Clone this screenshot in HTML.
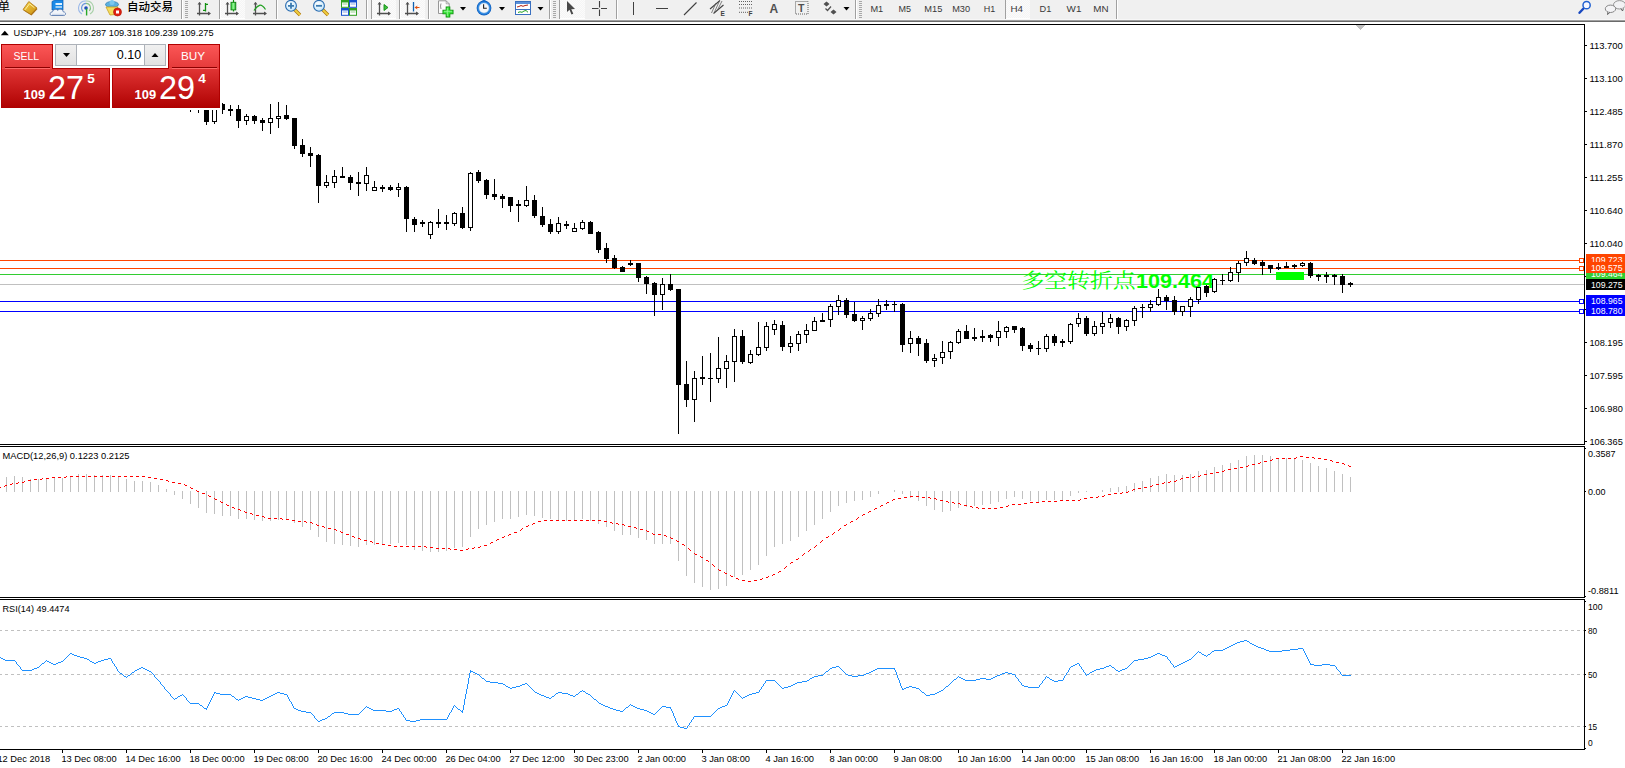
<!DOCTYPE html>
<html><head><meta charset="utf-8"><title>USDJPY-,H4</title>
<style>
html,body{margin:0;padding:0;background:#fff;}
body{width:1625px;height:768px;overflow:hidden;position:relative;font-family:'Liberation Sans',Arial,sans-serif;}
#panel{position:absolute;left:0;top:0;}
#panel .wm{position:absolute;left:0;top:42px;width:222px;height:68px;background:#fff;}
.tab{position:absolute;top:44px;height:26px;box-sizing:border-box;border:1px solid #a80000;border-bottom:none;
  background:linear-gradient(#f65656,#e03434);}
.tab.sell{left:1px;width:52px;}
.tab.buy{left:168px;width:52px;}
.tab span{position:absolute;left:0;right:0;top:4px;text-align:center;color:#fff;font-size:12px;letter-spacing:0.2px;}
.tab::after{content:"";position:absolute;left:3px;right:3px;top:23px;height:1px;background:#a00000;}
.big{position:absolute;top:68px;height:40px;box-sizing:border-box;border:1px solid #a80000;border-top:none;
  background:linear-gradient(#e03030,#b00000);color:#fff;}
.big.sellb{left:1px;width:110px;}
.big.buyb{left:112px;width:109px;}
.big .s{position:absolute;top:18px;font-size:12.5px;font-weight:bold;}
.big .l{position:absolute;top:-2px;font-size:33px;}
.big .u{position:absolute;top:5px;font-size:12px;font-weight:bold;}
.sellb .s{left:23px;} .sellb .l{left:48px;} .sellb .u{left:87px;}
.buyb .s{left:22px;} .buyb .l{left:47px;} .buyb .u{left:86px;}
.lot{position:absolute;left:55px;top:44px;width:112px;height:22px;box-sizing:border-box;border:1px solid #adb2b9;background:#fff;}
.lot .dn,.lot .up{position:absolute;top:0;width:21px;height:20px;background:linear-gradient(#f2f2f2,#e2e2e2);}
.lot .dn{left:0;border-right:1px solid #adb2b9;}
.lot .up{right:0;border-left:1px solid #adb2b9;}
.lot .dn::after,.lot .up::after{content:"";position:absolute;left:7px;width:0;height:0;border-left:3.5px solid transparent;border-right:3.5px solid transparent;}
.lot .dn::after{top:8px;border-top:4px solid #000;}
.lot .up::after{top:8px;border-bottom:4px solid #000;}
.lot .val{position:absolute;right:25px;top:3px;font-size:12.5px;color:#000;}
#tb{position:absolute;left:0;top:0;width:1625px;height:20px;}
</style></head>
<body>
<svg width="1625" height="768" viewBox="0 0 1625 768" style="position:absolute;left:0;top:0" font-family="'Liberation Sans', Arial, sans-serif">
<g shape-rendering="crispEdges">
<rect x="0" y="0" width="1625" height="20" fill="#f0f0f0" />
<rect x="0" y="19" width="1625" height="1" fill="#f7f7f7" />
<rect x="0" y="20" width="1625" height="1" fill="#a0a0a0" />
<rect x="0" y="21" width="1625" height="1" fill="#6a6a6a" />
<g shape-rendering="auto"><defs><pattern id="chk" width="2" height="2" patternUnits="userSpaceOnUse"><rect width="2" height="2" fill="#f5f5f5"/><rect width="1" height="1" fill="#fbfbfb"/><rect x="1" y="1" width="1" height="1" fill="#fbfbfb"/></pattern><linearGradient id="gold" x1="0" y1="0" x2="1" y2="1"><stop offset="0" stop-color="#f8d848"/><stop offset="1" stop-color="#c88a10"/></linearGradient><radialGradient id="lens" cx="0.4" cy="0.35" r="0.7"><stop offset="0" stop-color="#ffffff"/><stop offset="1" stop-color="#bfe4fb"/></radialGradient><linearGradient id="gcan" x1="0" y1="0" x2="1" y2="0"><stop offset="0" stop-color="#30d040"/><stop offset="0.5" stop-color="#90f890"/><stop offset="1" stop-color="#20b030"/></linearGradient></defs><text x="-2" y="10.5" font-size="12" font-family="'Noto Sans CJK SC', 'WenQuanYi Zen Hei', sans-serif" fill="#000">单</text><path d="M23.5 10.5 L29 2.5 L37.5 9 L31.5 15.5 Z" fill="#a86c12"/><path d="M23 9.5 L28.8 1.5 L37 8 L31 14.5 Z" fill="url(#gold)" stroke="#b07818" stroke-width="0.8"/><path d="M25 9.8 L29.5 3.8 L34.5 7.8" fill="none" stroke="#fff4b0" stroke-width="0.9"/><path d="M52 1.5 L55 0 H63 V10 H52 Z" fill="#1a8ae8" stroke="#0e5cb0" stroke-width="0.7"/><rect x="55.5" y="3" width="6.5" height="2" fill="#e0f2ff"/><rect x="55.5" y="6.2" width="6.5" height="1.6" fill="#bfe2fb"/><path d="M51.5 15.5 C49.5 15.5 49.5 11.8 52.5 11.8 C53 9.3 56.5 8.6 57.8 10.4 C59.2 8.3 63.2 9 63.2 11.8 C66.2 11.8 66.2 15.5 63.8 15.5 Z" fill="#f2f5fa" stroke="#5a7cb0" stroke-width="0.9"/><path d="M52 14.3 H64" stroke="#c8d4e8" stroke-width="1"/><path d="M82 14 A7 7 0 0 1 86 1" fill="none" stroke="#9ab8e8" stroke-width="1.1"/><path d="M86 1 A7 7 0 0 1 90 14" fill="none" stroke="#a8d0a8" stroke-width="1.1"/><path d="M83.2 11.5 A4.6 4.6 0 0 1 86 3.4" fill="none" stroke="#6d98dc" stroke-width="1.1"/><path d="M86 3.4 A4.6 4.6 0 0 1 89.4 11" fill="none" stroke="#80c080" stroke-width="1.1"/><circle cx="86" cy="8" r="1.8" fill="#1a4cc0"/><path d="M86.6 8.5 V15.5" stroke="#28a828" stroke-width="1.4"/><ellipse cx="112" cy="4.5" rx="6.5" ry="3" fill="#5ab0e0" stroke="#3080b8" stroke-width="0.8"/><ellipse cx="112" cy="2.5" rx="2.5" ry="2.5" fill="#7cc8f0"/><path d="M106 7 L118 7 L115.5 14.5 L110 15 Z" fill="#f4dc60" stroke="#c8a020" stroke-width="0.8"/><circle cx="117.5" cy="12" r="4" fill="#e02010" stroke="#b01000" stroke-width="0.6"/><rect x="116" y="10.5" width="3" height="3" fill="#fff"/><text x="127" y="11.3" font-size="11.6" font-weight="500" font-family="'Noto Sans CJK SC', 'WenQuanYi Zen Hei', sans-serif" fill="#000" textLength="46" lengthAdjust="spacingAndGlyphs">自动交易</text><rect x="181" y="0" width="1" height="19" fill="#a0a0a0"/><rect x="182" y="0" width="1" height="19" fill="#ffffff"/><rect x="185" y="1" width="3" height="1" fill="#a8a8a8"/><rect x="185" y="3" width="3" height="1" fill="#a8a8a8"/><rect x="185" y="5" width="3" height="1" fill="#a8a8a8"/><rect x="185" y="7" width="3" height="1" fill="#a8a8a8"/><rect x="185" y="9" width="3" height="1" fill="#a8a8a8"/><rect x="185" y="11" width="3" height="1" fill="#a8a8a8"/><rect x="185" y="13" width="3" height="1" fill="#a8a8a8"/><rect x="185" y="15" width="3" height="1" fill="#a8a8a8"/><rect x="185" y="17" width="3" height="1" fill="#a8a8a8"/><path d="M199.5 2.5 V15.5 M197 13.5 H210" stroke="#505050" stroke-width="1.3" fill="none"/><path d="M197.5 4.5 L199.5 2 L201.5 4.5 Z M208 11.5 L211 13.5 L208 15.5 Z" fill="#505050"/><path d="M205.5 3 V11.5 M203 10.3 H205.5 M205.5 4.4 H208" stroke="#109010" stroke-width="1.3" fill="none"/><rect x="219" y="0" width="1" height="19" fill="#a0a0a0"/><rect x="220" y="0" width="1" height="19" fill="#ffffff"/><rect x="221" y="0" width="24" height="18" fill="url(#chk)"/><rect x="221" y="18" width="24" height="1" fill="#ffffff"/><path d="M227.5 2.5 V15.5 M225 13.5 H238" stroke="#505050" stroke-width="1.3" fill="none"/><path d="M225.5 4.5 L227.5 2 L229.5 4.5 Z M236 11.5 L239 13.5 L236 15.5 Z" fill="#505050"/><path d="M233.5 0 V11.5" stroke="#109010" stroke-width="1.2"/><rect x="231" y="2.3" width="4.8" height="7.6" fill="url(#gcan)" stroke="#108010" stroke-width="0.9"/><path d="M255.5 2.5 V15.5 M253 13.5 H266" stroke="#505050" stroke-width="1.3" fill="none"/><path d="M253.5 4.5 L255.5 2 L257.5 4.5 Z M264 11.5 L267 13.5 L264 15.5 Z" fill="#505050"/><path d="M254 10.5 Q257 6 260 5.2 Q262.5 5 265.5 9.5" stroke="#20a020" stroke-width="1.2" fill="none"/><rect x="276" y="0" width="1" height="19" fill="#a0a0a0"/><rect x="277" y="0" width="1" height="19" fill="#ffffff"/><path d="M294.5 9.5 L300 15" stroke="#b07810" stroke-width="3.4"/><path d="M294.5 9.5 L300 15" stroke="#f0d040" stroke-width="1.8"/><circle cx="291" cy="5.8" r="5.4" fill="url(#lens)" stroke="#2a6cb0" stroke-width="1.1"/><path d="M288 5.8 H294 M291 2.8 V8.8" stroke="#3a7ab0" stroke-width="1.8"/><path d="M322.5 9.5 L328 15" stroke="#b07810" stroke-width="3.4"/><path d="M322.5 9.5 L328 15" stroke="#f0d040" stroke-width="1.8"/><circle cx="319" cy="5.8" r="5.4" fill="url(#lens)" stroke="#2a6cb0" stroke-width="1.1"/><path d="M316 5.8 H322" stroke="#3a7ab0" stroke-width="1.8"/><rect x="341" y="0" width="8" height="7.8" fill="#30a020"/><rect x="342" y="2.5" width="6" height="4.3" fill="#fff"/><rect x="342.5" y="3.5" width="5" height="1" fill="#30a020" opacity="0.5"/><rect x="349" y="0" width="8" height="7.8" fill="#1850d0"/><rect x="350" y="2.5" width="6" height="4.3" fill="#fff"/><rect x="350.5" y="3.5" width="5" height="1" fill="#1850d0" opacity="0.5"/><rect x="341" y="8" width="8" height="7.8" fill="#1850d0"/><rect x="342" y="10.5" width="6" height="4.3" fill="#fff"/><rect x="342.5" y="11.5" width="5" height="1" fill="#1850d0" opacity="0.5"/><rect x="349" y="8" width="8" height="7.8" fill="#30a020"/><rect x="350" y="10.5" width="6" height="4.3" fill="#fff"/><rect x="350.5" y="11.5" width="5" height="1" fill="#30a020" opacity="0.5"/><rect x="366" y="0" width="1" height="19" fill="#a0a0a0"/><rect x="367" y="0" width="1" height="19" fill="#ffffff"/><rect x="371" y="0" width="1" height="19" fill="#a0a0a0"/><rect x="372" y="0" width="1" height="19" fill="#ffffff"/><rect x="372" y="0" width="24" height="18" fill="url(#chk)"/><rect x="372" y="18" width="24" height="1" fill="#ffffff"/><path d="M379.5 2.5 V15.5 M377 13.5 H390" stroke="#505050" stroke-width="1.3" fill="none"/><path d="M377.5 4.5 L379.5 2 L381.5 4.5 Z M388 11.5 L391 13.5 L388 15.5 Z" fill="#505050"/><path d="M384 4.5 L388 7.5 L384 10.5 Z" fill="#40c040" stroke="#109010" stroke-width="0.9"/><rect x="399" y="0" width="1" height="19" fill="#a0a0a0"/><rect x="400" y="0" width="1" height="19" fill="#ffffff"/><rect x="401" y="0" width="24" height="18" fill="url(#chk)"/><rect x="401" y="18" width="24" height="1" fill="#ffffff"/><path d="M407.5 2.5 V15.5 M405 13.5 H418" stroke="#505050" stroke-width="1.3" fill="none"/><path d="M405.5 4.5 L407.5 2 L409.5 4.5 Z M416 11.5 L419 13.5 L416 15.5 Z" fill="#505050"/><path d="M413.5 2 V11.5" stroke="#1060b0" stroke-width="1.3"/><path d="M414.5 7.5 L417.5 5.5 L417 7 L419.5 7 L419.5 8 L417 8 L417.5 9.5 Z" fill="#e05010"/><rect x="428" y="0" width="1" height="19" fill="#a0a0a0"/><rect x="429" y="0" width="1" height="19" fill="#ffffff"/><path d="M438.5 0.8 H446.2 L449.2 3.8 V13.5 H438.5 Z" fill="#fbfbfb" stroke="#8c8c8c" stroke-width="0.9"/><path d="M446.2 0.8 V3.8 H449.2" fill="none" stroke="#8c8c8c" stroke-width="0.7"/><path d="M441 3.5 Q440 6 441 9" stroke="#606060" stroke-width="0.7" fill="none"/><path d="M442.5 12 H453.5 M448 6.5 V17.5" stroke="#0a8a0a" stroke-width="4.6"/><path d="M443.3 12 H452.7 M448 7.3 V16.7" stroke="#3ee63e" stroke-width="2.8"/><path d="M444 11.3 H452 M447.3 8 V16" stroke="#9cf89c" stroke-width="0.8"/><path d="M460 7 h6 l-3 3.5 z" fill="#000"/><circle cx="484" cy="8" r="7.4" fill="#1060c0"/><circle cx="484" cy="8" r="6.6" fill="#2a86e0"/><circle cx="484" cy="8" r="5" fill="#f6f8fa" stroke="#a8c8e8" stroke-width="0.5"/><path d="M483.6 4.2 V8.2 H486.8" stroke="#202020" stroke-width="1.1" fill="none"/><rect x="482.5" y="0" width="3" height="1" fill="#1a70d0"/><path d="M499 7 h6 l-3 3.5 z" fill="#000"/><rect x="515.5" y="1.5" width="15" height="13" fill="#fff" stroke="#3a70c0" stroke-width="1"/><rect x="516" y="2" width="14" height="2" fill="#5a90d8"/><rect x="516" y="9" width="14" height="1" fill="#3a70c0"/><path d="M517 7 L519 6.5 L521 5.5 L523 6.3 L525 5.5 L528 5" stroke="#b02010" stroke-width="1" fill="none"/><path d="M518 12.5 L520 11.8 L522 12.3 L524 11 L526 10.5 L528 12.3" stroke="#20a020" stroke-width="1" fill="none"/><path d="M537.5 7 h6 l-3 3.5 z" fill="#000"/><rect x="549" y="0" width="1" height="19" fill="#a0a0a0"/><rect x="550" y="0" width="1" height="19" fill="#ffffff"/><rect x="553" y="1" width="3" height="1" fill="#a8a8a8"/><rect x="553" y="3" width="3" height="1" fill="#a8a8a8"/><rect x="553" y="5" width="3" height="1" fill="#a8a8a8"/><rect x="553" y="7" width="3" height="1" fill="#a8a8a8"/><rect x="553" y="9" width="3" height="1" fill="#a8a8a8"/><rect x="553" y="11" width="3" height="1" fill="#a8a8a8"/><rect x="553" y="13" width="3" height="1" fill="#a8a8a8"/><rect x="553" y="15" width="3" height="1" fill="#a8a8a8"/><rect x="553" y="17" width="3" height="1" fill="#a8a8a8"/><rect x="559" y="0" width="1" height="19" fill="#a0a0a0"/><rect x="560" y="0" width="1" height="19" fill="#ffffff"/><rect x="560" y="0" width="25" height="18" fill="url(#chk)"/><rect x="560" y="18" width="25" height="1" fill="#ffffff"/><path d="M567 1 L567 12 L569.5 9.8 L571.5 14.5 L573.3 13.7 L571.3 9.2 L575 9 Z" fill="#484848"/><path d="M592 8.5 H598.5 M601 8.5 H607 M599.5 1 V7.5 M599.5 9.5 V16" stroke="#404040" stroke-width="1.1"/><rect x="616" y="0" width="1" height="19" fill="#a0a0a0"/><rect x="617" y="0" width="1" height="19" fill="#ffffff"/><rect x="633" y="2" width="1" height="13" fill="#404040"/><rect x="656" y="8" width="12" height="1" fill="#404040"/><path d="M684 15 L696.5 2.5" stroke="#404040" stroke-width="1.1"/><path d="M710 9 L720 0.5 M713.5 13.5 L723.5 5" stroke="#404040" stroke-width="1.1"/><path d="M711.5 13 L716 3 M714.5 12 L719 2 M717.5 10 L722 1" stroke="#606060" stroke-width="0.8"/><text x="720.5" y="16" font-size="6.5" font-weight="bold" fill="#404040" font-family="'Liberation Sans', sans-serif">E</text><path d="M739 1.5 H752" stroke="#505050" stroke-width="0.9" stroke-dasharray="1,1"/><path d="M739 4.5 H752" stroke="#505050" stroke-width="0.9" stroke-dasharray="1,1"/><path d="M739 8 H752" stroke="#505050" stroke-width="0.9" stroke-dasharray="1,1"/><path d="M739 12.3 H748" stroke="#505050" stroke-width="0.9" stroke-dasharray="1,1"/><text x="748.5" y="16" font-size="6.5" font-weight="bold" fill="#404040" font-family="'Liberation Sans', sans-serif">F</text><text x="769.5" y="13" font-size="12" font-weight="bold" fill="#505050" font-family="'Liberation Sans', sans-serif">A</text><rect x="795.5" y="1.5" width="12.5" height="12.5" fill="none" stroke="#505050" stroke-width="0.9" stroke-dasharray="1,1"/><text x="798" y="12" font-size="10.5" font-weight="bold" fill="#505050" font-family="'Liberation Sans', sans-serif">T</text><path d="M823.5 4 L826.5 1.5 L829.5 4 L826.5 6.5 Z M830.5 12 L833.5 9.5 L836.5 12 L833.5 14.5 Z" fill="#505050"/><path d="M825.5 8.5 L827.5 10.5 L831 6.5" stroke="#505050" stroke-width="1.2" fill="none"/><path d="M843.5 7 h6 l-3 3.5 z" fill="#000"/><rect x="855" y="0" width="1" height="19" fill="#a0a0a0"/><rect x="856" y="0" width="1" height="19" fill="#ffffff"/><rect x="859" y="1" width="3" height="1" fill="#a8a8a8"/><rect x="859" y="3" width="3" height="1" fill="#a8a8a8"/><rect x="859" y="5" width="3" height="1" fill="#a8a8a8"/><rect x="859" y="7" width="3" height="1" fill="#a8a8a8"/><rect x="859" y="9" width="3" height="1" fill="#a8a8a8"/><rect x="859" y="11" width="3" height="1" fill="#a8a8a8"/><rect x="859" y="13" width="3" height="1" fill="#a8a8a8"/><rect x="859" y="15" width="3" height="1" fill="#a8a8a8"/><rect x="859" y="17" width="3" height="1" fill="#a8a8a8"/><rect x="1005" y="0" width="1" height="19" fill="#a0a0a0"/><rect x="1006" y="0" width="1" height="19" fill="#ffffff"/><rect x="1006" y="0" width="24" height="18" fill="url(#chk)"/><rect x="1006" y="18" width="24" height="1" fill="#ffffff"/><text x="870.4" y="12.1" font-size="9.3" fill="#383838" textLength="12.8" lengthAdjust="spacingAndGlyphs">M1</text><text x="898.5" y="12.1" font-size="9.3" fill="#383838" textLength="12.5" lengthAdjust="spacingAndGlyphs">M5</text><text x="924.3" y="12.1" font-size="9.3" fill="#383838" textLength="18" lengthAdjust="spacingAndGlyphs">M15</text><text x="952.2" y="12.1" font-size="9.3" fill="#383838" textLength="17.9" lengthAdjust="spacingAndGlyphs">M30</text><text x="983.7" y="12.1" font-size="9.3" fill="#383838" textLength="11.5" lengthAdjust="spacingAndGlyphs">H1</text><text x="1010.5" y="12.1" font-size="9.3" fill="#383838" textLength="12.5" lengthAdjust="spacingAndGlyphs">H4</text><text x="1039.5" y="12.1" font-size="9.3" fill="#383838" textLength="11.8" lengthAdjust="spacingAndGlyphs">D1</text><text x="1066.6" y="12.1" font-size="9.3" fill="#383838" textLength="14.8" lengthAdjust="spacingAndGlyphs">W1</text><text x="1093.2" y="12.1" font-size="9.3" fill="#383838" textLength="15.3" lengthAdjust="spacingAndGlyphs">MN</text><rect x="1116" y="0" width="1" height="19" fill="#a0a0a0"/><rect x="1117" y="0" width="1" height="19" fill="#ffffff"/><path d="M1583.5 8.5 L1579.5 12.8" stroke="#1848c0" stroke-width="2.4" stroke-linecap="round"/><circle cx="1586.6" cy="5.2" r="3.6" fill="#f4f6ff" stroke="#2060d0" stroke-width="1.5"/><ellipse cx="1619.5" cy="4.8" rx="6" ry="4.2" fill="#f2f2f4" stroke="#8a8a8a" stroke-width="0.9"/><path d="M1621 8.5 L1622.5 11 L1623.5 8.5" fill="#f2f2f4" stroke="#555" stroke-width="0.9"/><ellipse cx="1610.5" cy="8.8" rx="5.2" ry="3.7" fill="#f4f4f6" stroke="#7a7a7a" stroke-width="0.9"/><path d="M1608 12 L1607.5 14.5 L1610 12.3" fill="#f4f4f6" stroke="#555" stroke-width="0.9"/></g>
<rect x="0" y="24" width="1585" height="1" fill="#000" />
<rect x="0" y="444" width="1585" height="1" fill="#000" />
<rect x="0" y="446" width="1585" height="1" fill="#000" />
<rect x="0" y="597" width="1585" height="1" fill="#000" />
<rect x="0" y="599" width="1585" height="1" fill="#000" />
<rect x="0" y="749" width="1585" height="1" fill="#000" />
<rect x="1584" y="24" width="1" height="421" fill="#000" />
<rect x="1584" y="446" width="1" height="152" fill="#000" />
<rect x="1584" y="599" width="1" height="151" fill="#000" />
<rect x="1356" y="25" width="9" height="1" fill="#c0c0c0" />
<rect x="1357" y="26" width="7" height="1" fill="#c0c0c0" />
<rect x="1358" y="27" width="5" height="1" fill="#c0c0c0" />
<rect x="1359" y="28" width="3" height="1" fill="#c0c0c0" />
<rect x="1360" y="29" width="1" height="1" fill="#c0c0c0" />
<rect x="1585" y="45" width="2" height="1" fill="#000" />
<rect x="1585" y="78" width="2" height="1" fill="#000" />
<rect x="1585" y="111" width="2" height="1" fill="#000" />
<rect x="1585" y="144" width="2" height="1" fill="#000" />
<rect x="1585" y="177" width="2" height="1" fill="#000" />
<rect x="1585" y="210" width="2" height="1" fill="#000" />
<rect x="1585" y="243" width="2" height="1" fill="#000" />
<rect x="1585" y="342" width="2" height="1" fill="#000" />
<rect x="1585" y="375" width="2" height="1" fill="#000" />
<rect x="1585" y="408" width="2" height="1" fill="#000" />
<rect x="1585" y="441" width="2" height="1" fill="#000" />
<rect x="1585" y="276" width="2" height="1" fill="#000" />
<rect x="1585" y="309" width="2" height="1" fill="#000" />
<rect x="1585" y="448" width="1" height="1" fill="#000" />
<rect x="1585" y="491" width="1" height="1" fill="#000" />
<rect x="1585" y="596" width="1" height="1" fill="#000" />
<rect x="1585" y="601" width="1" height="1" fill="#000" />
<rect x="1585" y="630" width="1" height="1" fill="#000" />
<rect x="1585" y="674" width="1" height="1" fill="#000" />
<rect x="1585" y="726" width="1" height="1" fill="#000" />
<rect x="1585" y="748" width="1" height="1" fill="#000" />
<rect x="62" y="750" width="1" height="3" fill="#000" />
<rect x="126" y="750" width="1" height="3" fill="#000" />
<rect x="190" y="750" width="1" height="3" fill="#000" />
<rect x="254" y="750" width="1" height="3" fill="#000" />
<rect x="318" y="750" width="1" height="3" fill="#000" />
<rect x="382" y="750" width="1" height="3" fill="#000" />
<rect x="446" y="750" width="1" height="3" fill="#000" />
<rect x="510" y="750" width="1" height="3" fill="#000" />
<rect x="574" y="750" width="1" height="3" fill="#000" />
<rect x="638" y="750" width="1" height="3" fill="#000" />
<rect x="702" y="750" width="1" height="3" fill="#000" />
<rect x="766" y="750" width="1" height="3" fill="#000" />
<rect x="830" y="750" width="1" height="3" fill="#000" />
<rect x="894" y="750" width="1" height="3" fill="#000" />
<rect x="958" y="750" width="1" height="3" fill="#000" />
<rect x="1022" y="750" width="1" height="3" fill="#000" />
<rect x="1086" y="750" width="1" height="3" fill="#000" />
<rect x="1150" y="750" width="1" height="3" fill="#000" />
<rect x="1214" y="750" width="1" height="3" fill="#000" />
<rect x="1278" y="750" width="1" height="3" fill="#000" />
<rect x="1342" y="750" width="1" height="3" fill="#000" />
<rect x="0" y="260" width="1579" height="1" fill="#ff4500" />
<rect x="0" y="268" width="1579" height="1" fill="#ff4500" />
<rect x="0" y="274" width="1584" height="1" fill="#32cd32" />
<rect x="0" y="284" width="1584" height="1" fill="#c0c0c0" />
<rect x="0" y="301" width="1579" height="1" fill="#0000ff" />
<rect x="0" y="311" width="1579" height="1" fill="#0000ff" />
<rect x="1579" y="258" width="5" height="5" fill="#ff4500" />
<rect x="1580" y="259" width="3" height="3" fill="#fff" />
<rect x="1579" y="266" width="5" height="5" fill="#ff4500" />
<rect x="1580" y="267" width="3" height="3" fill="#fff" />
<rect x="1579" y="299" width="5" height="5" fill="#0000ff" />
<rect x="1580" y="300" width="3" height="3" fill="#fff" />
<rect x="1579" y="309" width="5" height="5" fill="#0000ff" />
<rect x="1580" y="310" width="3" height="3" fill="#fff" />
</g>
<text x="1021.5" y="288.3" font-size="20.5" fill="#00ff00" font-family="'Noto Serif CJK SC', 'Liberation Serif', serif" textLength="114" lengthAdjust="spacingAndGlyphs">多空转折点</text>
<text x="1136" y="288" font-size="21" fill="#00ff00" font-weight="bold" font-family="'Liberation Sans', Arial, sans-serif" textLength="78" lengthAdjust="spacingAndGlyphs">109.464</text>
<g shape-rendering="crispEdges">
<rect x="1276" y="272" width="28" height="8" fill="#00ff00" />
<rect x="190" y="95" width="1" height="17" fill="#000" />
<rect x="188" y="98" width="5" height="7" fill="#000" />
<rect x="198" y="96" width="1" height="17" fill="#000" />
<rect x="196" y="99" width="5" height="7" fill="#000" />
<rect x="206" y="100" width="1" height="25" fill="#000" />
<rect x="204" y="100" width="5" height="22" fill="#000" />
<rect x="214" y="100" width="1" height="24" fill="#000" />
<rect x="212" y="100" width="5" height="22" fill="#000" />
<rect x="213" y="101" width="3" height="20" fill="#fff" />
<rect x="222" y="103" width="1" height="11" fill="#000" />
<rect x="220" y="104" width="5" height="6" fill="#000" />
<rect x="230" y="105" width="1" height="11" fill="#000" />
<rect x="228" y="109" width="5" height="2" fill="#000" />
<rect x="238" y="105" width="1" height="23" fill="#000" />
<rect x="236" y="109" width="5" height="12" fill="#000" />
<rect x="246" y="114" width="1" height="11" fill="#000" />
<rect x="244" y="116" width="5" height="5" fill="#000" />
<rect x="245" y="117" width="3" height="3" fill="#fff" />
<rect x="254" y="115" width="1" height="9" fill="#000" />
<rect x="252" y="116" width="5" height="5" fill="#000" />
<rect x="262" y="118" width="1" height="13" fill="#000" />
<rect x="260" y="120" width="5" height="3" fill="#000" />
<rect x="270" y="104" width="1" height="30" fill="#000" />
<rect x="268" y="118" width="5" height="5" fill="#000" />
<rect x="269" y="119" width="3" height="3" fill="#fff" />
<rect x="278" y="102" width="1" height="26" fill="#000" />
<rect x="276" y="116" width="5" height="3" fill="#000" />
<rect x="277" y="117" width="3" height="1" fill="#fff" />
<rect x="286" y="105" width="1" height="15" fill="#000" />
<rect x="284" y="115" width="5" height="4" fill="#000" />
<rect x="294" y="118" width="1" height="31" fill="#000" />
<rect x="292" y="118" width="5" height="28" fill="#000" />
<rect x="302" y="139" width="1" height="18" fill="#000" />
<rect x="300" y="145" width="5" height="9" fill="#000" />
<rect x="310" y="147" width="1" height="20" fill="#000" />
<rect x="308" y="153" width="5" height="3" fill="#000" />
<rect x="318" y="154" width="1" height="49" fill="#000" />
<rect x="316" y="155" width="5" height="31" fill="#000" />
<rect x="326" y="175" width="1" height="13" fill="#000" />
<rect x="324" y="182" width="5" height="4" fill="#000" />
<rect x="325" y="183" width="3" height="2" fill="#fff" />
<rect x="334" y="170" width="1" height="18" fill="#000" />
<rect x="332" y="176" width="5" height="7" fill="#000" />
<rect x="333" y="177" width="3" height="5" fill="#fff" />
<rect x="342" y="167" width="1" height="11" fill="#000" />
<rect x="340" y="176" width="5" height="2" fill="#000" />
<rect x="350" y="175" width="1" height="15" fill="#000" />
<rect x="348" y="177" width="5" height="6" fill="#000" />
<rect x="358" y="172" width="1" height="24" fill="#000" />
<rect x="356" y="182" width="5" height="2" fill="#000" />
<rect x="366" y="167" width="1" height="24" fill="#000" />
<rect x="364" y="175" width="5" height="9" fill="#000" />
<rect x="365" y="176" width="3" height="7" fill="#fff" />
<rect x="374" y="181" width="1" height="10" fill="#000" />
<rect x="372" y="187" width="5" height="4" fill="#000" />
<rect x="373" y="188" width="3" height="2" fill="#fff" />
<rect x="382" y="185" width="1" height="7" fill="#000" />
<rect x="380" y="187" width="5" height="2" fill="#000" />
<rect x="390" y="185" width="1" height="6" fill="#000" />
<rect x="388" y="187" width="5" height="3" fill="#000" />
<rect x="398" y="183" width="1" height="14" fill="#000" />
<rect x="396" y="187" width="5" height="3" fill="#000" />
<rect x="397" y="188" width="3" height="1" fill="#fff" />
<rect x="406" y="186" width="1" height="46" fill="#000" />
<rect x="404" y="187" width="5" height="32" fill="#000" />
<rect x="414" y="217" width="1" height="15" fill="#000" />
<rect x="412" y="219" width="5" height="6" fill="#000" />
<rect x="422" y="220" width="1" height="7" fill="#000" />
<rect x="420" y="222" width="5" height="2" fill="#000" />
<rect x="430" y="221" width="1" height="18" fill="#000" />
<rect x="428" y="222" width="5" height="13" fill="#000" />
<rect x="429" y="223" width="3" height="11" fill="#fff" />
<rect x="438" y="209" width="1" height="19" fill="#000" />
<rect x="436" y="222" width="5" height="2" fill="#000" />
<rect x="446" y="215" width="1" height="15" fill="#000" />
<rect x="444" y="222" width="5" height="2" fill="#000" />
<rect x="454" y="212" width="1" height="14" fill="#000" />
<rect x="452" y="213" width="5" height="11" fill="#000" />
<rect x="453" y="214" width="3" height="9" fill="#fff" />
<rect x="462" y="207" width="1" height="22" fill="#000" />
<rect x="460" y="213" width="5" height="15" fill="#000" />
<rect x="470" y="172" width="1" height="59" fill="#000" />
<rect x="468" y="173" width="5" height="55" fill="#000" />
<rect x="469" y="174" width="3" height="53" fill="#fff" />
<rect x="478" y="170" width="1" height="13" fill="#000" />
<rect x="476" y="172" width="5" height="9" fill="#000" />
<rect x="486" y="179" width="1" height="20" fill="#000" />
<rect x="484" y="180" width="5" height="15" fill="#000" />
<rect x="494" y="179" width="1" height="21" fill="#000" />
<rect x="492" y="194" width="5" height="3" fill="#000" />
<rect x="502" y="194" width="1" height="14" fill="#000" />
<rect x="500" y="196" width="5" height="3" fill="#000" />
<rect x="510" y="197" width="1" height="15" fill="#000" />
<rect x="508" y="197" width="5" height="9" fill="#000" />
<rect x="518" y="200" width="1" height="22" fill="#000" />
<rect x="516" y="204" width="5" height="2" fill="#000" />
<rect x="526" y="186" width="1" height="21" fill="#000" />
<rect x="524" y="200" width="5" height="6" fill="#000" />
<rect x="525" y="201" width="3" height="4" fill="#fff" />
<rect x="534" y="195" width="1" height="23" fill="#000" />
<rect x="532" y="200" width="5" height="16" fill="#000" />
<rect x="542" y="207" width="1" height="20" fill="#000" />
<rect x="540" y="216" width="5" height="9" fill="#000" />
<rect x="550" y="219" width="1" height="15" fill="#000" />
<rect x="548" y="224" width="5" height="8" fill="#000" />
<rect x="558" y="217" width="1" height="17" fill="#000" />
<rect x="556" y="223" width="5" height="9" fill="#000" />
<rect x="557" y="224" width="3" height="7" fill="#fff" />
<rect x="566" y="221" width="1" height="8" fill="#000" />
<rect x="564" y="224" width="5" height="2" fill="#000" />
<rect x="574" y="223" width="1" height="9" fill="#000" />
<rect x="572" y="228" width="5" height="4" fill="#000" />
<rect x="573" y="229" width="3" height="2" fill="#fff" />
<rect x="582" y="220" width="1" height="10" fill="#000" />
<rect x="580" y="222" width="5" height="7" fill="#000" />
<rect x="581" y="223" width="3" height="5" fill="#fff" />
<rect x="590" y="221" width="1" height="13" fill="#000" />
<rect x="588" y="222" width="5" height="12" fill="#000" />
<rect x="598" y="231" width="1" height="22" fill="#000" />
<rect x="596" y="232" width="5" height="18" fill="#000" />
<rect x="606" y="243" width="1" height="20" fill="#000" />
<rect x="604" y="248" width="5" height="11" fill="#000" />
<rect x="614" y="255" width="1" height="14" fill="#000" />
<rect x="612" y="258" width="5" height="10" fill="#000" />
<rect x="622" y="266" width="1" height="6" fill="#000" />
<rect x="620" y="267" width="5" height="5" fill="#000" />
<rect x="630" y="260" width="1" height="6" fill="#000" />
<rect x="628" y="263" width="5" height="2" fill="#000" />
<rect x="638" y="263" width="1" height="19" fill="#000" />
<rect x="636" y="263" width="5" height="15" fill="#000" />
<rect x="646" y="276" width="1" height="18" fill="#000" />
<rect x="644" y="277" width="5" height="7" fill="#000" />
<rect x="654" y="282" width="1" height="34" fill="#000" />
<rect x="652" y="283" width="5" height="12" fill="#000" />
<rect x="662" y="278" width="1" height="32" fill="#000" />
<rect x="660" y="284" width="5" height="11" fill="#000" />
<rect x="661" y="285" width="3" height="9" fill="#fff" />
<rect x="670" y="274" width="1" height="17" fill="#000" />
<rect x="668" y="284" width="5" height="6" fill="#000" />
<rect x="678" y="289" width="1" height="145" fill="#000" />
<rect x="676" y="289" width="5" height="96" fill="#000" />
<rect x="686" y="361" width="1" height="46" fill="#000" />
<rect x="684" y="384" width="5" height="16" fill="#000" />
<rect x="694" y="371" width="1" height="51" fill="#000" />
<rect x="692" y="378" width="5" height="22" fill="#000" />
<rect x="693" y="379" width="3" height="20" fill="#fff" />
<rect x="702" y="356" width="1" height="29" fill="#000" />
<rect x="700" y="377" width="5" height="2" fill="#000" />
<rect x="710" y="353" width="1" height="49" fill="#000" />
<rect x="708" y="378" width="5" height="1" fill="#000" />
<rect x="718" y="337" width="1" height="46" fill="#000" />
<rect x="716" y="368" width="5" height="11" fill="#000" />
<rect x="717" y="369" width="3" height="9" fill="#fff" />
<rect x="726" y="355" width="1" height="33" fill="#000" />
<rect x="724" y="361" width="5" height="8" fill="#000" />
<rect x="725" y="362" width="3" height="6" fill="#fff" />
<rect x="734" y="329" width="1" height="53" fill="#000" />
<rect x="732" y="336" width="5" height="26" fill="#000" />
<rect x="733" y="337" width="3" height="24" fill="#fff" />
<rect x="742" y="330" width="1" height="34" fill="#000" />
<rect x="740" y="336" width="5" height="26" fill="#000" />
<rect x="750" y="350" width="1" height="14" fill="#000" />
<rect x="748" y="354" width="5" height="9" fill="#000" />
<rect x="749" y="355" width="3" height="7" fill="#fff" />
<rect x="758" y="322" width="1" height="34" fill="#000" />
<rect x="756" y="347" width="5" height="8" fill="#000" />
<rect x="757" y="348" width="3" height="6" fill="#fff" />
<rect x="766" y="322" width="1" height="29" fill="#000" />
<rect x="764" y="326" width="5" height="22" fill="#000" />
<rect x="765" y="327" width="3" height="20" fill="#fff" />
<rect x="774" y="320" width="1" height="15" fill="#000" />
<rect x="772" y="324" width="5" height="6" fill="#000" />
<rect x="773" y="325" width="3" height="4" fill="#fff" />
<rect x="782" y="321" width="1" height="30" fill="#000" />
<rect x="780" y="325" width="5" height="22" fill="#000" />
<rect x="790" y="336" width="1" height="17" fill="#000" />
<rect x="788" y="343" width="5" height="4" fill="#000" />
<rect x="789" y="344" width="3" height="2" fill="#fff" />
<rect x="798" y="331" width="1" height="20" fill="#000" />
<rect x="796" y="334" width="5" height="10" fill="#000" />
<rect x="797" y="335" width="3" height="8" fill="#fff" />
<rect x="806" y="324" width="1" height="19" fill="#000" />
<rect x="804" y="330" width="5" height="5" fill="#000" />
<rect x="805" y="331" width="3" height="3" fill="#fff" />
<rect x="814" y="317" width="1" height="14" fill="#000" />
<rect x="812" y="321" width="5" height="10" fill="#000" />
<rect x="813" y="322" width="3" height="8" fill="#fff" />
<rect x="822" y="313" width="1" height="9" fill="#000" />
<rect x="820" y="320" width="5" height="2" fill="#000" />
<rect x="830" y="304" width="1" height="23" fill="#000" />
<rect x="828" y="306" width="5" height="14" fill="#000" />
<rect x="829" y="307" width="3" height="12" fill="#fff" />
<rect x="838" y="295" width="1" height="20" fill="#000" />
<rect x="836" y="300" width="5" height="7" fill="#000" />
<rect x="837" y="301" width="3" height="5" fill="#fff" />
<rect x="846" y="298" width="1" height="20" fill="#000" />
<rect x="844" y="300" width="5" height="15" fill="#000" />
<rect x="854" y="302" width="1" height="20" fill="#000" />
<rect x="852" y="314" width="5" height="7" fill="#000" />
<rect x="862" y="316" width="1" height="14" fill="#000" />
<rect x="860" y="318" width="5" height="3" fill="#000" />
<rect x="861" y="319" width="3" height="1" fill="#fff" />
<rect x="870" y="309" width="1" height="12" fill="#000" />
<rect x="868" y="313" width="5" height="6" fill="#000" />
<rect x="869" y="314" width="3" height="4" fill="#fff" />
<rect x="878" y="299" width="1" height="18" fill="#000" />
<rect x="876" y="305" width="5" height="9" fill="#000" />
<rect x="877" y="306" width="3" height="7" fill="#fff" />
<rect x="886" y="300" width="1" height="10" fill="#000" />
<rect x="884" y="304" width="5" height="2" fill="#000" />
<rect x="894" y="301" width="1" height="11" fill="#000" />
<rect x="892" y="304" width="5" height="1" fill="#000" />
<rect x="902" y="303" width="1" height="49" fill="#000" />
<rect x="900" y="304" width="5" height="41" fill="#000" />
<rect x="910" y="331" width="1" height="22" fill="#000" />
<rect x="908" y="338" width="5" height="6" fill="#000" />
<rect x="909" y="339" width="3" height="4" fill="#fff" />
<rect x="918" y="336" width="1" height="20" fill="#000" />
<rect x="916" y="338" width="5" height="6" fill="#000" />
<rect x="926" y="339" width="1" height="24" fill="#000" />
<rect x="924" y="343" width="5" height="18" fill="#000" />
<rect x="934" y="354" width="1" height="13" fill="#000" />
<rect x="932" y="358" width="5" height="3" fill="#000" />
<rect x="933" y="359" width="3" height="1" fill="#fff" />
<rect x="942" y="341" width="1" height="23" fill="#000" />
<rect x="940" y="352" width="5" height="6" fill="#000" />
<rect x="941" y="353" width="3" height="4" fill="#fff" />
<rect x="950" y="341" width="1" height="18" fill="#000" />
<rect x="948" y="342" width="5" height="10" fill="#000" />
<rect x="949" y="343" width="3" height="8" fill="#fff" />
<rect x="958" y="329" width="1" height="15" fill="#000" />
<rect x="956" y="331" width="5" height="12" fill="#000" />
<rect x="957" y="332" width="3" height="10" fill="#fff" />
<rect x="966" y="325" width="1" height="14" fill="#000" />
<rect x="964" y="331" width="5" height="8" fill="#000" />
<rect x="974" y="328" width="1" height="13" fill="#000" />
<rect x="972" y="337" width="5" height="2" fill="#000" />
<rect x="982" y="330" width="1" height="12" fill="#000" />
<rect x="980" y="336" width="5" height="2" fill="#000" />
<rect x="990" y="334" width="1" height="8" fill="#000" />
<rect x="988" y="335" width="5" height="3" fill="#000" />
<rect x="998" y="321" width="1" height="25" fill="#000" />
<rect x="996" y="331" width="5" height="7" fill="#000" />
<rect x="997" y="332" width="3" height="5" fill="#fff" />
<rect x="1006" y="326" width="1" height="12" fill="#000" />
<rect x="1004" y="327" width="5" height="5" fill="#000" />
<rect x="1005" y="328" width="3" height="3" fill="#fff" />
<rect x="1014" y="326" width="1" height="7" fill="#000" />
<rect x="1012" y="326" width="5" height="4" fill="#000" />
<rect x="1022" y="327" width="1" height="24" fill="#000" />
<rect x="1020" y="328" width="5" height="18" fill="#000" />
<rect x="1030" y="343" width="1" height="9" fill="#000" />
<rect x="1028" y="345" width="5" height="4" fill="#000" />
<rect x="1038" y="341" width="1" height="14" fill="#000" />
<rect x="1036" y="348" width="5" height="1" fill="#000" />
<rect x="1046" y="334" width="1" height="18" fill="#000" />
<rect x="1044" y="336" width="5" height="13" fill="#000" />
<rect x="1045" y="337" width="3" height="11" fill="#fff" />
<rect x="1054" y="334" width="1" height="12" fill="#000" />
<rect x="1052" y="336" width="5" height="7" fill="#000" />
<rect x="1062" y="339" width="1" height="8" fill="#000" />
<rect x="1060" y="341" width="5" height="2" fill="#000" />
<rect x="1070" y="323" width="1" height="21" fill="#000" />
<rect x="1068" y="324" width="5" height="18" fill="#000" />
<rect x="1069" y="325" width="3" height="16" fill="#fff" />
<rect x="1078" y="313" width="1" height="14" fill="#000" />
<rect x="1076" y="318" width="5" height="6" fill="#000" />
<rect x="1077" y="319" width="3" height="4" fill="#fff" />
<rect x="1086" y="316" width="1" height="20" fill="#000" />
<rect x="1084" y="318" width="5" height="16" fill="#000" />
<rect x="1094" y="321" width="1" height="15" fill="#000" />
<rect x="1092" y="326" width="5" height="8" fill="#000" />
<rect x="1093" y="327" width="3" height="6" fill="#fff" />
<rect x="1102" y="312" width="1" height="22" fill="#000" />
<rect x="1100" y="323" width="5" height="4" fill="#000" />
<rect x="1101" y="324" width="3" height="2" fill="#fff" />
<rect x="1110" y="314" width="1" height="14" fill="#000" />
<rect x="1108" y="318" width="5" height="5" fill="#000" />
<rect x="1109" y="319" width="3" height="3" fill="#fff" />
<rect x="1118" y="317" width="1" height="17" fill="#000" />
<rect x="1116" y="318" width="5" height="9" fill="#000" />
<rect x="1126" y="319" width="1" height="12" fill="#000" />
<rect x="1124" y="320" width="5" height="7" fill="#000" />
<rect x="1125" y="321" width="3" height="5" fill="#fff" />
<rect x="1134" y="306" width="1" height="20" fill="#000" />
<rect x="1132" y="308" width="5" height="13" fill="#000" />
<rect x="1133" y="309" width="3" height="11" fill="#fff" />
<rect x="1142" y="304" width="1" height="14" fill="#000" />
<rect x="1140" y="307" width="5" height="1" fill="#000" />
<rect x="1150" y="300" width="1" height="12" fill="#000" />
<rect x="1148" y="304" width="5" height="4" fill="#000" />
<rect x="1149" y="305" width="3" height="2" fill="#fff" />
<rect x="1158" y="289" width="1" height="17" fill="#000" />
<rect x="1156" y="297" width="5" height="8" fill="#000" />
<rect x="1157" y="298" width="3" height="6" fill="#fff" />
<rect x="1166" y="295" width="1" height="15" fill="#000" />
<rect x="1164" y="297" width="5" height="4" fill="#000" />
<rect x="1174" y="296" width="1" height="19" fill="#000" />
<rect x="1172" y="300" width="5" height="12" fill="#000" />
<rect x="1182" y="306" width="1" height="10" fill="#000" />
<rect x="1180" y="306" width="5" height="6" fill="#000" />
<rect x="1181" y="307" width="3" height="4" fill="#fff" />
<rect x="1190" y="297" width="1" height="20" fill="#000" />
<rect x="1188" y="299" width="5" height="8" fill="#000" />
<rect x="1189" y="300" width="3" height="6" fill="#fff" />
<rect x="1198" y="287" width="1" height="17" fill="#000" />
<rect x="1196" y="287" width="5" height="13" fill="#000" />
<rect x="1197" y="288" width="3" height="11" fill="#fff" />
<rect x="1206" y="285" width="1" height="12" fill="#000" />
<rect x="1204" y="286" width="5" height="7" fill="#000" />
<rect x="1214" y="278" width="1" height="15" fill="#000" />
<rect x="1212" y="279" width="5" height="13" fill="#000" />
<rect x="1213" y="280" width="3" height="11" fill="#fff" />
<rect x="1222" y="274" width="1" height="11" fill="#000" />
<rect x="1220" y="280" width="5" height="1" fill="#000" />
<rect x="1230" y="267" width="1" height="15" fill="#000" />
<rect x="1228" y="272" width="5" height="9" fill="#000" />
<rect x="1229" y="273" width="3" height="7" fill="#fff" />
<rect x="1238" y="261" width="1" height="21" fill="#000" />
<rect x="1236" y="263" width="5" height="10" fill="#000" />
<rect x="1237" y="264" width="3" height="8" fill="#fff" />
<rect x="1246" y="251" width="1" height="15" fill="#000" />
<rect x="1244" y="258" width="5" height="5" fill="#000" />
<rect x="1245" y="259" width="3" height="3" fill="#fff" />
<rect x="1254" y="258" width="1" height="7" fill="#000" />
<rect x="1252" y="260" width="5" height="4" fill="#000" />
<rect x="1262" y="260" width="1" height="15" fill="#000" />
<rect x="1260" y="262" width="5" height="4" fill="#000" />
<rect x="1270" y="265" width="1" height="8" fill="#000" />
<rect x="1268" y="265" width="5" height="4" fill="#000" />
<rect x="1278" y="263" width="1" height="7" fill="#000" />
<rect x="1276" y="267" width="5" height="2" fill="#000" />
<rect x="1286" y="262" width="1" height="6" fill="#000" />
<rect x="1284" y="266" width="5" height="2" fill="#000" />
<rect x="1294" y="264" width="1" height="5" fill="#000" />
<rect x="1292" y="265" width="5" height="2" fill="#000" />
<rect x="1302" y="262" width="1" height="5" fill="#000" />
<rect x="1300" y="263" width="5" height="3" fill="#000" />
<rect x="1301" y="264" width="3" height="1" fill="#fff" />
<rect x="1310" y="262" width="1" height="16" fill="#000" />
<rect x="1308" y="263" width="5" height="13" fill="#000" />
<rect x="1318" y="274" width="1" height="7" fill="#000" />
<rect x="1316" y="275" width="5" height="2" fill="#000" />
<rect x="1326" y="272" width="1" height="11" fill="#000" />
<rect x="1324" y="275" width="5" height="2" fill="#000" />
<rect x="1334" y="274" width="1" height="11" fill="#000" />
<rect x="1332" y="275" width="5" height="2" fill="#000" />
<rect x="1342" y="274" width="1" height="19" fill="#000" />
<rect x="1340" y="276" width="5" height="9" fill="#000" />
<rect x="1350" y="282" width="1" height="5" fill="#000" />
<rect x="1348" y="283" width="5" height="2" fill="#000" />
<rect x="6" y="477" width="1" height="15" fill="#c0c0c0" />
<rect x="14" y="476" width="1" height="16" fill="#c0c0c0" />
<rect x="22" y="477" width="1" height="15" fill="#c0c0c0" />
<rect x="30" y="479" width="1" height="13" fill="#c0c0c0" />
<rect x="38" y="479" width="1" height="13" fill="#c0c0c0" />
<rect x="46" y="478" width="1" height="14" fill="#c0c0c0" />
<rect x="54" y="477" width="1" height="15" fill="#c0c0c0" />
<rect x="62" y="478" width="1" height="14" fill="#c0c0c0" />
<rect x="70" y="476" width="1" height="16" fill="#c0c0c0" />
<rect x="78" y="474" width="1" height="18" fill="#c0c0c0" />
<rect x="86" y="474" width="1" height="18" fill="#c0c0c0" />
<rect x="94" y="475" width="1" height="17" fill="#c0c0c0" />
<rect x="102" y="475" width="1" height="17" fill="#c0c0c0" />
<rect x="110" y="475" width="1" height="17" fill="#c0c0c0" />
<rect x="118" y="477" width="1" height="15" fill="#c0c0c0" />
<rect x="126" y="479" width="1" height="13" fill="#c0c0c0" />
<rect x="134" y="481" width="1" height="11" fill="#c0c0c0" />
<rect x="142" y="481" width="1" height="11" fill="#c0c0c0" />
<rect x="150" y="482" width="1" height="10" fill="#c0c0c0" />
<rect x="158" y="485" width="1" height="7" fill="#c0c0c0" />
<rect x="166" y="489" width="1" height="3" fill="#c0c0c0" />
<rect x="174" y="491" width="1" height="4" fill="#c0c0c0" />
<rect x="182" y="491" width="1" height="8" fill="#c0c0c0" />
<rect x="190" y="491" width="1" height="13" fill="#c0c0c0" />
<rect x="198" y="491" width="1" height="17" fill="#c0c0c0" />
<rect x="206" y="491" width="1" height="22" fill="#c0c0c0" />
<rect x="214" y="491" width="1" height="23" fill="#c0c0c0" />
<rect x="222" y="491" width="1" height="25" fill="#c0c0c0" />
<rect x="230" y="491" width="1" height="25" fill="#c0c0c0" />
<rect x="238" y="491" width="1" height="28" fill="#c0c0c0" />
<rect x="246" y="491" width="1" height="28" fill="#c0c0c0" />
<rect x="254" y="491" width="1" height="29" fill="#c0c0c0" />
<rect x="262" y="491" width="1" height="30" fill="#c0c0c0" />
<rect x="270" y="491" width="1" height="30" fill="#c0c0c0" />
<rect x="278" y="491" width="1" height="29" fill="#c0c0c0" />
<rect x="286" y="491" width="1" height="29" fill="#c0c0c0" />
<rect x="294" y="491" width="1" height="32" fill="#c0c0c0" />
<rect x="302" y="491" width="1" height="36" fill="#c0c0c0" />
<rect x="310" y="491" width="1" height="39" fill="#c0c0c0" />
<rect x="318" y="491" width="1" height="46" fill="#c0c0c0" />
<rect x="326" y="491" width="1" height="51" fill="#c0c0c0" />
<rect x="334" y="491" width="1" height="53" fill="#c0c0c0" />
<rect x="342" y="491" width="1" height="54" fill="#c0c0c0" />
<rect x="350" y="491" width="1" height="55" fill="#c0c0c0" />
<rect x="358" y="491" width="1" height="56" fill="#c0c0c0" />
<rect x="366" y="491" width="1" height="54" fill="#c0c0c0" />
<rect x="374" y="491" width="1" height="54" fill="#c0c0c0" />
<rect x="382" y="491" width="1" height="53" fill="#c0c0c0" />
<rect x="390" y="491" width="1" height="53" fill="#c0c0c0" />
<rect x="398" y="491" width="1" height="52" fill="#c0c0c0" />
<rect x="406" y="491" width="1" height="54" fill="#c0c0c0" />
<rect x="414" y="491" width="1" height="59" fill="#c0c0c0" />
<rect x="422" y="491" width="1" height="60" fill="#c0c0c0" />
<rect x="430" y="491" width="1" height="61" fill="#c0c0c0" />
<rect x="438" y="491" width="1" height="61" fill="#c0c0c0" />
<rect x="446" y="491" width="1" height="60" fill="#c0c0c0" />
<rect x="454" y="491" width="1" height="57" fill="#c0c0c0" />
<rect x="462" y="491" width="1" height="56" fill="#c0c0c0" />
<rect x="470" y="491" width="1" height="46" fill="#c0c0c0" />
<rect x="478" y="491" width="1" height="38" fill="#c0c0c0" />
<rect x="486" y="491" width="1" height="34" fill="#c0c0c0" />
<rect x="494" y="491" width="1" height="31" fill="#c0c0c0" />
<rect x="502" y="491" width="1" height="28" fill="#c0c0c0" />
<rect x="510" y="491" width="1" height="28" fill="#c0c0c0" />
<rect x="518" y="491" width="1" height="26" fill="#c0c0c0" />
<rect x="526" y="491" width="1" height="24" fill="#c0c0c0" />
<rect x="534" y="491" width="1" height="25" fill="#c0c0c0" />
<rect x="542" y="491" width="1" height="27" fill="#c0c0c0" />
<rect x="550" y="491" width="1" height="28" fill="#c0c0c0" />
<rect x="558" y="491" width="1" height="30" fill="#c0c0c0" />
<rect x="566" y="491" width="1" height="30" fill="#c0c0c0" />
<rect x="574" y="491" width="1" height="30" fill="#c0c0c0" />
<rect x="582" y="491" width="1" height="28" fill="#c0c0c0" />
<rect x="590" y="491" width="1" height="30" fill="#c0c0c0" />
<rect x="598" y="491" width="1" height="33" fill="#c0c0c0" />
<rect x="606" y="491" width="1" height="36" fill="#c0c0c0" />
<rect x="614" y="491" width="1" height="40" fill="#c0c0c0" />
<rect x="622" y="491" width="1" height="44" fill="#c0c0c0" />
<rect x="630" y="491" width="1" height="44" fill="#c0c0c0" />
<rect x="638" y="491" width="1" height="47" fill="#c0c0c0" />
<rect x="646" y="491" width="1" height="49" fill="#c0c0c0" />
<rect x="654" y="491" width="1" height="53" fill="#c0c0c0" />
<rect x="662" y="491" width="1" height="53" fill="#c0c0c0" />
<rect x="670" y="491" width="1" height="53" fill="#c0c0c0" />
<rect x="678" y="491" width="1" height="70" fill="#c0c0c0" />
<rect x="686" y="491" width="1" height="85" fill="#c0c0c0" />
<rect x="694" y="491" width="1" height="92" fill="#c0c0c0" />
<rect x="702" y="491" width="1" height="96" fill="#c0c0c0" />
<rect x="710" y="491" width="1" height="99" fill="#c0c0c0" />
<rect x="718" y="491" width="1" height="98" fill="#c0c0c0" />
<rect x="726" y="491" width="1" height="95" fill="#c0c0c0" />
<rect x="734" y="491" width="1" height="86" fill="#c0c0c0" />
<rect x="742" y="491" width="1" height="84" fill="#c0c0c0" />
<rect x="750" y="491" width="1" height="79" fill="#c0c0c0" />
<rect x="758" y="491" width="1" height="74" fill="#c0c0c0" />
<rect x="766" y="491" width="1" height="65" fill="#c0c0c0" />
<rect x="774" y="491" width="1" height="56" fill="#c0c0c0" />
<rect x="782" y="491" width="1" height="53" fill="#c0c0c0" />
<rect x="790" y="491" width="1" height="50" fill="#c0c0c0" />
<rect x="798" y="491" width="1" height="46" fill="#c0c0c0" />
<rect x="806" y="491" width="1" height="40" fill="#c0c0c0" />
<rect x="814" y="491" width="1" height="34" fill="#c0c0c0" />
<rect x="822" y="491" width="1" height="28" fill="#c0c0c0" />
<rect x="830" y="491" width="1" height="21" fill="#c0c0c0" />
<rect x="838" y="491" width="1" height="15" fill="#c0c0c0" />
<rect x="846" y="491" width="1" height="12" fill="#c0c0c0" />
<rect x="854" y="491" width="1" height="10" fill="#c0c0c0" />
<rect x="862" y="491" width="1" height="9" fill="#c0c0c0" />
<rect x="870" y="491" width="1" height="6" fill="#c0c0c0" />
<rect x="878" y="491" width="1" height="3" fill="#c0c0c0" />
<rect x="894" y="490" width="1" height="2" fill="#c0c0c0" />
<rect x="902" y="491" width="1" height="3" fill="#c0c0c0" />
<rect x="910" y="491" width="1" height="7" fill="#c0c0c0" />
<rect x="918" y="491" width="1" height="10" fill="#c0c0c0" />
<rect x="926" y="491" width="1" height="15" fill="#c0c0c0" />
<rect x="934" y="491" width="1" height="19" fill="#c0c0c0" />
<rect x="942" y="491" width="1" height="21" fill="#c0c0c0" />
<rect x="950" y="491" width="1" height="20" fill="#c0c0c0" />
<rect x="958" y="491" width="1" height="17" fill="#c0c0c0" />
<rect x="966" y="491" width="1" height="16" fill="#c0c0c0" />
<rect x="974" y="491" width="1" height="15" fill="#c0c0c0" />
<rect x="982" y="491" width="1" height="14" fill="#c0c0c0" />
<rect x="990" y="491" width="1" height="13" fill="#c0c0c0" />
<rect x="998" y="491" width="1" height="11" fill="#c0c0c0" />
<rect x="1006" y="491" width="1" height="8" fill="#c0c0c0" />
<rect x="1014" y="491" width="1" height="6" fill="#c0c0c0" />
<rect x="1022" y="491" width="1" height="8" fill="#c0c0c0" />
<rect x="1030" y="491" width="1" height="10" fill="#c0c0c0" />
<rect x="1038" y="491" width="1" height="12" fill="#c0c0c0" />
<rect x="1046" y="491" width="1" height="9" fill="#c0c0c0" />
<rect x="1054" y="491" width="1" height="9" fill="#c0c0c0" />
<rect x="1062" y="491" width="1" height="9" fill="#c0c0c0" />
<rect x="1070" y="491" width="1" height="5" fill="#c0c0c0" />
<rect x="1078" y="491" width="1" height="2" fill="#c0c0c0" />
<rect x="1086" y="491" width="1" height="1" fill="#c0c0c0" />
<rect x="1102" y="490" width="1" height="2" fill="#c0c0c0" />
<rect x="1110" y="488" width="1" height="4" fill="#c0c0c0" />
<rect x="1118" y="487" width="1" height="5" fill="#c0c0c0" />
<rect x="1126" y="486" width="1" height="6" fill="#c0c0c0" />
<rect x="1134" y="483" width="1" height="9" fill="#c0c0c0" />
<rect x="1142" y="481" width="1" height="11" fill="#c0c0c0" />
<rect x="1150" y="478" width="1" height="14" fill="#c0c0c0" />
<rect x="1158" y="476" width="1" height="16" fill="#c0c0c0" />
<rect x="1166" y="474" width="1" height="18" fill="#c0c0c0" />
<rect x="1174" y="475" width="1" height="17" fill="#c0c0c0" />
<rect x="1182" y="475" width="1" height="17" fill="#c0c0c0" />
<rect x="1190" y="474" width="1" height="18" fill="#c0c0c0" />
<rect x="1198" y="471" width="1" height="21" fill="#c0c0c0" />
<rect x="1206" y="470" width="1" height="22" fill="#c0c0c0" />
<rect x="1214" y="467" width="1" height="25" fill="#c0c0c0" />
<rect x="1222" y="465" width="1" height="27" fill="#c0c0c0" />
<rect x="1230" y="463" width="1" height="29" fill="#c0c0c0" />
<rect x="1238" y="460" width="1" height="32" fill="#c0c0c0" />
<rect x="1246" y="456" width="1" height="36" fill="#c0c0c0" />
<rect x="1254" y="455" width="1" height="37" fill="#c0c0c0" />
<rect x="1262" y="455" width="1" height="37" fill="#c0c0c0" />
<rect x="1270" y="456" width="1" height="36" fill="#c0c0c0" />
<rect x="1278" y="458" width="1" height="34" fill="#c0c0c0" />
<rect x="1286" y="458" width="1" height="34" fill="#c0c0c0" />
<rect x="1294" y="459" width="1" height="33" fill="#c0c0c0" />
<rect x="1302" y="460" width="1" height="32" fill="#c0c0c0" />
<rect x="1310" y="463" width="1" height="29" fill="#c0c0c0" />
<rect x="1318" y="466" width="1" height="26" fill="#c0c0c0" />
<rect x="1326" y="468" width="1" height="24" fill="#c0c0c0" />
<rect x="1334" y="471" width="1" height="21" fill="#c0c0c0" />
<rect x="1342" y="474" width="1" height="18" fill="#c0c0c0" />
<rect x="1350" y="477" width="1" height="15" fill="#c0c0c0" />
</g>
<g shape-rendering="crispEdges"><rect x="334" y="529" width="2" height="1" fill="#ff0000"/><rect x="521" y="529" width="1" height="1" fill="#ff0000"/><rect x="640" y="529" width="3" height="1" fill="#ff0000"/><rect x="839" y="529" width="1" height="1" fill="#ff0000"/><rect x="808" y="551" width="1" height="1" fill="#ff0000"/><rect x="28" y="480" width="3" height="1" fill="#ff0000"/><rect x="166" y="480" width="2" height="1" fill="#ff0000"/><rect x="1176" y="480" width="1" height="1" fill="#ff0000"/><rect x="306" y="522" width="1" height="1" fill="#ff0000"/><rect x="310" y="522" width="2" height="1" fill="#ff0000"/><rect x="610" y="522" width="2" height="1" fill="#ff0000"/><rect x="850" y="522" width="1" height="1" fill="#ff0000"/><rect x="394" y="546" width="3" height="1" fill="#ff0000"/><rect x="400" y="546" width="3" height="1" fill="#ff0000"/><rect x="406" y="546" width="3" height="1" fill="#ff0000"/><rect x="412" y="546" width="3" height="1" fill="#ff0000"/><rect x="418" y="546" width="3" height="1" fill="#ff0000"/><rect x="424" y="546" width="2" height="1" fill="#ff0000"/><rect x="480" y="546" width="1" height="1" fill="#ff0000"/><rect x="815" y="546" width="1" height="1" fill="#ff0000"/><rect x="426" y="547" width="1" height="1" fill="#ff0000"/><rect x="430" y="547" width="3" height="1" fill="#ff0000"/><rect x="474" y="547" width="1" height="1" fill="#ff0000"/><rect x="478" y="547" width="2" height="1" fill="#ff0000"/><rect x="814" y="547" width="1" height="1" fill="#ff0000"/><rect x="450" y="549" width="1" height="1" fill="#ff0000"/><rect x="454" y="549" width="3" height="1" fill="#ff0000"/><rect x="466" y="549" width="2" height="1" fill="#ff0000"/><rect x="689" y="549" width="1" height="1" fill="#ff0000"/><rect x="810" y="549" width="1" height="1" fill="#ff0000"/><rect x="372" y="542" width="1" height="1" fill="#ff0000"/><rect x="491" y="542" width="2" height="1" fill="#ff0000"/><rect x="820" y="542" width="1" height="1" fill="#ff0000"/><rect x="252" y="514" width="1" height="1" fill="#ff0000"/><rect x="863" y="514" width="2" height="1" fill="#ff0000"/><rect x="352" y="536" width="2" height="1" fill="#ff0000"/><rect x="504" y="536" width="1" height="1" fill="#ff0000"/><rect x="666" y="536" width="1" height="1" fill="#ff0000"/><rect x="828" y="536" width="1" height="1" fill="#ff0000"/><rect x="1272" y="459" width="1" height="1" fill="#ff0000"/><rect x="1324" y="459" width="3" height="1" fill="#ff0000"/><rect x="312" y="523" width="1" height="1" fill="#ff0000"/><rect x="533" y="523" width="2" height="1" fill="#ff0000"/><rect x="612" y="523" width="1" height="1" fill="#ff0000"/><rect x="616" y="523" width="2" height="1" fill="#ff0000"/><rect x="12" y="483" width="1" height="1" fill="#ff0000"/><rect x="16" y="483" width="2" height="1" fill="#ff0000"/><rect x="178" y="483" width="3" height="1" fill="#ff0000"/><rect x="1162" y="483" width="2" height="1" fill="#ff0000"/><rect x="388" y="545" width="3" height="1" fill="#ff0000"/><rect x="484" y="545" width="3" height="1" fill="#ff0000"/><rect x="684" y="545" width="1" height="1" fill="#ff0000"/><rect x="816" y="545" width="1" height="1" fill="#ff0000"/><rect x="436" y="548" width="3" height="1" fill="#ff0000"/><rect x="442" y="548" width="3" height="1" fill="#ff0000"/><rect x="448" y="548" width="2" height="1" fill="#ff0000"/><rect x="468" y="548" width="1" height="1" fill="#ff0000"/><rect x="472" y="548" width="2" height="1" fill="#ff0000"/><rect x="688" y="548" width="1" height="1" fill="#ff0000"/><rect x="18" y="482" width="1" height="1" fill="#ff0000"/><rect x="22" y="482" width="2" height="1" fill="#ff0000"/><rect x="172" y="482" width="3" height="1" fill="#ff0000"/><rect x="1164" y="482" width="1" height="1" fill="#ff0000"/><rect x="1168" y="482" width="2" height="1" fill="#ff0000"/><rect x="66" y="476" width="1" height="1" fill="#ff0000"/><rect x="70" y="476" width="3" height="1" fill="#ff0000"/><rect x="76" y="476" width="3" height="1" fill="#ff0000"/><rect x="82" y="476" width="3" height="1" fill="#ff0000"/><rect x="88" y="476" width="3" height="1" fill="#ff0000"/><rect x="94" y="476" width="3" height="1" fill="#ff0000"/><rect x="100" y="476" width="3" height="1" fill="#ff0000"/><rect x="106" y="476" width="3" height="1" fill="#ff0000"/><rect x="112" y="476" width="3" height="1" fill="#ff0000"/><rect x="118" y="476" width="3" height="1" fill="#ff0000"/><rect x="124" y="476" width="3" height="1" fill="#ff0000"/><rect x="130" y="476" width="3" height="1" fill="#ff0000"/><rect x="136" y="476" width="3" height="1" fill="#ff0000"/><rect x="142" y="476" width="3" height="1" fill="#ff0000"/><rect x="1194" y="476" width="1" height="1" fill="#ff0000"/><rect x="1198" y="476" width="2" height="1" fill="#ff0000"/><rect x="0" y="487" width="1" height="1" fill="#ff0000"/><rect x="190" y="487" width="1" height="1" fill="#ff0000"/><rect x="1144" y="487" width="3" height="1" fill="#ff0000"/><rect x="712" y="564" width="1" height="1" fill="#ff0000"/><rect x="1270" y="460" width="2" height="1" fill="#ff0000"/><rect x="1330" y="460" width="2" height="1" fill="#ff0000"/><rect x="346" y="534" width="3" height="1" fill="#ff0000"/><rect x="509" y="534" width="2" height="1" fill="#ff0000"/><rect x="653" y="534" width="2" height="1" fill="#ff0000"/><rect x="658" y="534" width="3" height="1" fill="#ff0000"/><rect x="832" y="534" width="1" height="1" fill="#ff0000"/><rect x="34" y="479" width="3" height="1" fill="#ff0000"/><rect x="40" y="479" width="2" height="1" fill="#ff0000"/><rect x="160" y="479" width="3" height="1" fill="#ff0000"/><rect x="1180" y="479" width="1" height="1" fill="#ff0000"/><rect x="713" y="565" width="1" height="1" fill="#ff0000"/><rect x="234" y="508" width="1" height="1" fill="#ff0000"/><rect x="875" y="508" width="2" height="1" fill="#ff0000"/><rect x="978" y="508" width="1" height="1" fill="#ff0000"/><rect x="982" y="508" width="3" height="1" fill="#ff0000"/><rect x="988" y="508" width="3" height="1" fill="#ff0000"/><rect x="994" y="508" width="3" height="1" fill="#ff0000"/><rect x="904" y="497" width="3" height="1" fill="#ff0000"/><rect x="922" y="497" width="3" height="1" fill="#ff0000"/><rect x="928" y="497" width="2" height="1" fill="#ff0000"/><rect x="1090" y="497" width="3" height="1" fill="#ff0000"/><rect x="1096" y="497" width="2" height="1" fill="#ff0000"/><rect x="1276" y="458" width="3" height="1" fill="#ff0000"/><rect x="1282" y="458" width="3" height="1" fill="#ff0000"/><rect x="1288" y="458" width="3" height="1" fill="#ff0000"/><rect x="1294" y="458" width="2" height="1" fill="#ff0000"/><rect x="1314" y="458" width="1" height="1" fill="#ff0000"/><rect x="1318" y="458" width="3" height="1" fill="#ff0000"/><rect x="1224" y="470" width="1" height="1" fill="#ff0000"/><rect x="298" y="521" width="3" height="1" fill="#ff0000"/><rect x="304" y="521" width="2" height="1" fill="#ff0000"/><rect x="538" y="521" width="3" height="1" fill="#ff0000"/><rect x="604" y="521" width="3" height="1" fill="#ff0000"/><rect x="851" y="521" width="2" height="1" fill="#ff0000"/><rect x="238" y="509" width="2" height="1" fill="#ff0000"/><rect x="874" y="509" width="1" height="1" fill="#ff0000"/><rect x="256" y="515" width="3" height="1" fill="#ff0000"/><rect x="862" y="515" width="1" height="1" fill="#ff0000"/><rect x="1122" y="492" width="1" height="1" fill="#ff0000"/><rect x="1126" y="492" width="2" height="1" fill="#ff0000"/><rect x="197" y="491" width="2" height="1" fill="#ff0000"/><rect x="1128" y="491" width="1" height="1" fill="#ff0000"/><rect x="892" y="500" width="1" height="1" fill="#ff0000"/><rect x="940" y="500" width="3" height="1" fill="#ff0000"/><rect x="1060" y="500" width="3" height="1" fill="#ff0000"/><rect x="1066" y="500" width="3" height="1" fill="#ff0000"/><rect x="1072" y="500" width="3" height="1" fill="#ff0000"/><rect x="1078" y="500" width="2" height="1" fill="#ff0000"/><rect x="1204" y="474" width="3" height="1" fill="#ff0000"/><rect x="341" y="532" width="2" height="1" fill="#ff0000"/><rect x="514" y="532" width="3" height="1" fill="#ff0000"/><rect x="834" y="532" width="1" height="1" fill="#ff0000"/><rect x="1258" y="463" width="2" height="1" fill="#ff0000"/><rect x="1342" y="463" width="2" height="1" fill="#ff0000"/><rect x="354" y="537" width="1" height="1" fill="#ff0000"/><rect x="502" y="537" width="2" height="1" fill="#ff0000"/><rect x="670" y="537" width="1" height="1" fill="#ff0000"/><rect x="826" y="537" width="2" height="1" fill="#ff0000"/><rect x="736" y="578" width="2" height="1" fill="#ff0000"/><rect x="762" y="578" width="1" height="1" fill="#ff0000"/><rect x="226" y="504" width="1" height="1" fill="#ff0000"/><rect x="960" y="504" width="1" height="1" fill="#ff0000"/><rect x="1012" y="504" width="3" height="1" fill="#ff0000"/><rect x="1018" y="504" width="3" height="1" fill="#ff0000"/><rect x="376" y="543" width="3" height="1" fill="#ff0000"/><rect x="490" y="543" width="1" height="1" fill="#ff0000"/><rect x="694" y="553" width="1" height="1" fill="#ff0000"/><rect x="804" y="553" width="1" height="1" fill="#ff0000"/><rect x="232" y="507" width="2" height="1" fill="#ff0000"/><rect x="972" y="507" width="1" height="1" fill="#ff0000"/><rect x="976" y="507" width="2" height="1" fill="#ff0000"/><rect x="1000" y="507" width="3" height="1" fill="#ff0000"/><rect x="322" y="526" width="2" height="1" fill="#ff0000"/><rect x="526" y="526" width="2" height="1" fill="#ff0000"/><rect x="628" y="526" width="3" height="1" fill="#ff0000"/><rect x="1300" y="456" width="3" height="1" fill="#ff0000"/><rect x="785" y="567" width="1" height="1" fill="#ff0000"/><rect x="1296" y="457" width="1" height="1" fill="#ff0000"/><rect x="1306" y="457" width="3" height="1" fill="#ff0000"/><rect x="1312" y="457" width="2" height="1" fill="#ff0000"/><rect x="202" y="493" width="3" height="1" fill="#ff0000"/><rect x="1114" y="493" width="3" height="1" fill="#ff0000"/><rect x="1120" y="493" width="2" height="1" fill="#ff0000"/><rect x="796" y="559" width="2" height="1" fill="#ff0000"/><rect x="209" y="496" width="2" height="1" fill="#ff0000"/><rect x="910" y="496" width="3" height="1" fill="#ff0000"/><rect x="916" y="496" width="3" height="1" fill="#ff0000"/><rect x="1098" y="496" width="1" height="1" fill="#ff0000"/><rect x="1102" y="496" width="2" height="1" fill="#ff0000"/><rect x="292" y="520" width="3" height="1" fill="#ff0000"/><rect x="544" y="520" width="3" height="1" fill="#ff0000"/><rect x="550" y="520" width="3" height="1" fill="#ff0000"/><rect x="556" y="520" width="3" height="1" fill="#ff0000"/><rect x="562" y="520" width="3" height="1" fill="#ff0000"/><rect x="568" y="520" width="3" height="1" fill="#ff0000"/><rect x="574" y="520" width="3" height="1" fill="#ff0000"/><rect x="580" y="520" width="3" height="1" fill="#ff0000"/><rect x="586" y="520" width="3" height="1" fill="#ff0000"/><rect x="592" y="520" width="3" height="1" fill="#ff0000"/><rect x="598" y="520" width="3" height="1" fill="#ff0000"/><rect x="52" y="477" width="3" height="1" fill="#ff0000"/><rect x="58" y="477" width="3" height="1" fill="#ff0000"/><rect x="64" y="477" width="2" height="1" fill="#ff0000"/><rect x="148" y="477" width="3" height="1" fill="#ff0000"/><rect x="1186" y="477" width="3" height="1" fill="#ff0000"/><rect x="1192" y="477" width="2" height="1" fill="#ff0000"/><rect x="360" y="539" width="1" height="1" fill="#ff0000"/><rect x="497" y="539" width="2" height="1" fill="#ff0000"/><rect x="886" y="503" width="1" height="1" fill="#ff0000"/><rect x="954" y="503" width="1" height="1" fill="#ff0000"/><rect x="958" y="503" width="2" height="1" fill="#ff0000"/><rect x="1024" y="503" width="3" height="1" fill="#ff0000"/><rect x="748" y="581" width="3" height="1" fill="#ff0000"/><rect x="227" y="505" width="2" height="1" fill="#ff0000"/><rect x="881" y="505" width="2" height="1" fill="#ff0000"/><rect x="964" y="505" width="3" height="1" fill="#ff0000"/><rect x="1008" y="505" width="1" height="1" fill="#ff0000"/><rect x="214" y="498" width="1" height="1" fill="#ff0000"/><rect x="898" y="498" width="3" height="1" fill="#ff0000"/><rect x="930" y="498" width="1" height="1" fill="#ff0000"/><rect x="934" y="498" width="2" height="1" fill="#ff0000"/><rect x="1084" y="498" width="3" height="1" fill="#ff0000"/><rect x="220" y="501" width="1" height="1" fill="#ff0000"/><rect x="946" y="501" width="2" height="1" fill="#ff0000"/><rect x="1042" y="501" width="3" height="1" fill="#ff0000"/><rect x="1048" y="501" width="3" height="1" fill="#ff0000"/><rect x="1054" y="501" width="3" height="1" fill="#ff0000"/><rect x="262" y="516" width="2" height="1" fill="#ff0000"/><rect x="24" y="481" width="1" height="1" fill="#ff0000"/><rect x="168" y="481" width="1" height="1" fill="#ff0000"/><rect x="1170" y="481" width="1" height="1" fill="#ff0000"/><rect x="1174" y="481" width="2" height="1" fill="#ff0000"/><rect x="4" y="486" width="1" height="1" fill="#ff0000"/><rect x="1150" y="486" width="2" height="1" fill="#ff0000"/><rect x="221" y="502" width="2" height="1" fill="#ff0000"/><rect x="887" y="502" width="2" height="1" fill="#ff0000"/><rect x="948" y="502" width="1" height="1" fill="#ff0000"/><rect x="952" y="502" width="2" height="1" fill="#ff0000"/><rect x="1030" y="502" width="3" height="1" fill="#ff0000"/><rect x="1036" y="502" width="3" height="1" fill="#ff0000"/><rect x="244" y="511" width="1" height="1" fill="#ff0000"/><rect x="869" y="511" width="2" height="1" fill="#ff0000"/><rect x="282" y="519" width="1" height="1" fill="#ff0000"/><rect x="286" y="519" width="3" height="1" fill="#ff0000"/><rect x="856" y="519" width="1" height="1" fill="#ff0000"/><rect x="215" y="499" width="2" height="1" fill="#ff0000"/><rect x="893" y="499" width="2" height="1" fill="#ff0000"/><rect x="936" y="499" width="1" height="1" fill="#ff0000"/><rect x="1080" y="499" width="1" height="1" fill="#ff0000"/><rect x="10" y="484" width="2" height="1" fill="#ff0000"/><rect x="184" y="484" width="1" height="1" fill="#ff0000"/><rect x="1156" y="484" width="3" height="1" fill="#ff0000"/><rect x="708" y="561" width="1" height="1" fill="#ff0000"/><rect x="5" y="485" width="2" height="1" fill="#ff0000"/><rect x="185" y="485" width="2" height="1" fill="#ff0000"/><rect x="1152" y="485" width="1" height="1" fill="#ff0000"/><rect x="719" y="570" width="2" height="1" fill="#ff0000"/><rect x="316" y="524" width="1" height="1" fill="#ff0000"/><rect x="532" y="524" width="1" height="1" fill="#ff0000"/><rect x="618" y="524" width="1" height="1" fill="#ff0000"/><rect x="622" y="524" width="2" height="1" fill="#ff0000"/><rect x="846" y="524" width="1" height="1" fill="#ff0000"/><rect x="1264" y="461" width="3" height="1" fill="#ff0000"/><rect x="1332" y="461" width="1" height="1" fill="#ff0000"/><rect x="1246" y="466" width="2" height="1" fill="#ff0000"/><rect x="1349" y="466" width="2" height="1" fill="#ff0000"/><rect x="773" y="574" width="2" height="1" fill="#ff0000"/><rect x="358" y="538" width="2" height="1" fill="#ff0000"/><rect x="671" y="538" width="2" height="1" fill="#ff0000"/><rect x="382" y="544" width="3" height="1" fill="#ff0000"/><rect x="682" y="544" width="2" height="1" fill="#ff0000"/><rect x="460" y="550" width="3" height="1" fill="#ff0000"/><rect x="690" y="550" width="1" height="1" fill="#ff0000"/><rect x="809" y="550" width="1" height="1" fill="#ff0000"/><rect x="738" y="579" width="1" height="1" fill="#ff0000"/><rect x="760" y="579" width="2" height="1" fill="#ff0000"/><rect x="1252" y="464" width="3" height="1" fill="#ff0000"/><rect x="1344" y="464" width="1" height="1" fill="#ff0000"/><rect x="191" y="488" width="2" height="1" fill="#ff0000"/><rect x="1138" y="488" width="3" height="1" fill="#ff0000"/><rect x="880" y="506" width="1" height="1" fill="#ff0000"/><rect x="970" y="506" width="2" height="1" fill="#ff0000"/><rect x="1006" y="506" width="2" height="1" fill="#ff0000"/><rect x="42" y="478" width="1" height="1" fill="#ff0000"/><rect x="46" y="478" width="3" height="1" fill="#ff0000"/><rect x="154" y="478" width="3" height="1" fill="#ff0000"/><rect x="1181" y="478" width="2" height="1" fill="#ff0000"/><rect x="245" y="512" width="2" height="1" fill="#ff0000"/><rect x="868" y="512" width="1" height="1" fill="#ff0000"/><rect x="328" y="528" width="3" height="1" fill="#ff0000"/><rect x="522" y="528" width="1" height="1" fill="#ff0000"/><rect x="636" y="528" width="1" height="1" fill="#ff0000"/><rect x="840" y="528" width="1" height="1" fill="#ff0000"/><rect x="1260" y="462" width="1" height="1" fill="#ff0000"/><rect x="1336" y="462" width="3" height="1" fill="#ff0000"/><rect x="1108" y="494" width="3" height="1" fill="#ff0000"/><rect x="508" y="535" width="1" height="1" fill="#ff0000"/><rect x="664" y="535" width="2" height="1" fill="#ff0000"/><rect x="730" y="575" width="1" height="1" fill="#ff0000"/><rect x="772" y="575" width="1" height="1" fill="#ff0000"/><rect x="695" y="554" width="2" height="1" fill="#ff0000"/><rect x="803" y="554" width="1" height="1" fill="#ff0000"/><rect x="725" y="573" width="2" height="1" fill="#ff0000"/><rect x="791" y="562" width="2" height="1" fill="#ff0000"/><rect x="779" y="571" width="2" height="1" fill="#ff0000"/><rect x="1234" y="468" width="3" height="1" fill="#ff0000"/><rect x="370" y="541" width="2" height="1" fill="#ff0000"/><rect x="677" y="541" width="2" height="1" fill="#ff0000"/><rect x="821" y="541" width="1" height="1" fill="#ff0000"/><rect x="336" y="530" width="1" height="1" fill="#ff0000"/><rect x="520" y="530" width="1" height="1" fill="#ff0000"/><rect x="646" y="530" width="1" height="1" fill="#ff0000"/><rect x="838" y="530" width="1" height="1" fill="#ff0000"/><rect x="364" y="540" width="3" height="1" fill="#ff0000"/><rect x="496" y="540" width="1" height="1" fill="#ff0000"/><rect x="676" y="540" width="1" height="1" fill="#ff0000"/><rect x="822" y="540" width="1" height="1" fill="#ff0000"/><rect x="700" y="556" width="1" height="1" fill="#ff0000"/><rect x="1216" y="472" width="3" height="1" fill="#ff0000"/><rect x="1222" y="471" width="2" height="1" fill="#ff0000"/><rect x="268" y="518" width="3" height="1" fill="#ff0000"/><rect x="274" y="518" width="3" height="1" fill="#ff0000"/><rect x="280" y="518" width="2" height="1" fill="#ff0000"/><rect x="857" y="518" width="1" height="1" fill="#ff0000"/><rect x="340" y="531" width="1" height="1" fill="#ff0000"/><rect x="647" y="531" width="2" height="1" fill="#ff0000"/><rect x="1228" y="469" width="3" height="1" fill="#ff0000"/><rect x="766" y="577" width="2" height="1" fill="#ff0000"/><rect x="317" y="525" width="2" height="1" fill="#ff0000"/><rect x="528" y="525" width="1" height="1" fill="#ff0000"/><rect x="624" y="525" width="1" height="1" fill="#ff0000"/><rect x="844" y="525" width="2" height="1" fill="#ff0000"/><rect x="742" y="580" width="3" height="1" fill="#ff0000"/><rect x="754" y="580" width="3" height="1" fill="#ff0000"/><rect x="714" y="566" width="1" height="1" fill="#ff0000"/><rect x="786" y="566" width="1" height="1" fill="#ff0000"/><rect x="208" y="495" width="1" height="1" fill="#ff0000"/><rect x="1104" y="495" width="1" height="1" fill="#ff0000"/><rect x="1248" y="465" width="1" height="1" fill="#ff0000"/><rect x="1348" y="465" width="1" height="1" fill="#ff0000"/><rect x="1210" y="473" width="3" height="1" fill="#ff0000"/><rect x="724" y="572" width="1" height="1" fill="#ff0000"/><rect x="778" y="572" width="1" height="1" fill="#ff0000"/><rect x="324" y="527" width="1" height="1" fill="#ff0000"/><rect x="634" y="527" width="2" height="1" fill="#ff0000"/><rect x="240" y="510" width="1" height="1" fill="#ff0000"/><rect x="1133" y="489" width="2" height="1" fill="#ff0000"/><rect x="1240" y="467" width="3" height="1" fill="#ff0000"/><rect x="731" y="576" width="2" height="1" fill="#ff0000"/><rect x="768" y="576" width="1" height="1" fill="#ff0000"/><rect x="790" y="563" width="1" height="1" fill="#ff0000"/><rect x="706" y="560" width="2" height="1" fill="#ff0000"/><rect x="701" y="557" width="2" height="1" fill="#ff0000"/><rect x="250" y="513" width="2" height="1" fill="#ff0000"/><rect x="784" y="568" width="1" height="1" fill="#ff0000"/><rect x="264" y="517" width="1" height="1" fill="#ff0000"/><rect x="858" y="517" width="1" height="1" fill="#ff0000"/><rect x="652" y="533" width="1" height="1" fill="#ff0000"/><rect x="833" y="533" width="1" height="1" fill="#ff0000"/><rect x="196" y="490" width="1" height="1" fill="#ff0000"/><rect x="1132" y="490" width="1" height="1" fill="#ff0000"/><rect x="1200" y="475" width="1" height="1" fill="#ff0000"/><rect x="798" y="558" width="1" height="1" fill="#ff0000"/><rect x="802" y="555" width="1" height="1" fill="#ff0000"/><rect x="718" y="569" width="1" height="1" fill="#ff0000"/></g>
<g shape-rendering="crispEdges">
<line x1="0" y1="630.5" x2="1584" y2="630.5" stroke="#c0c0c0" stroke-width="1" stroke-dasharray="3,3" stroke-dashoffset="1"/>
<line x1="0" y1="674.5" x2="1584" y2="674.5" stroke="#c0c0c0" stroke-width="1" stroke-dasharray="3,3" stroke-dashoffset="1"/>
<line x1="0" y1="726.5" x2="1584" y2="726.5" stroke="#c0c0c0" stroke-width="1" stroke-dasharray="3,3" stroke-dashoffset="1"/>
</g>
<g shape-rendering="crispEdges"><rect x="1" y="658" width="2" height="1" fill="#1e90ff"/><rect x="65" y="658" width="1" height="1" fill="#1e90ff"/><rect x="84" y="658" width="3" height="1" fill="#1e90ff"/><rect x="108" y="658" width="3" height="1" fill="#1e90ff"/><rect x="1144" y="658" width="4" height="1" fill="#1e90ff"/><rect x="1167" y="658" width="1" height="1" fill="#1e90ff"/><rect x="1191" y="658" width="1" height="1" fill="#1e90ff"/><rect x="1307" y="658" width="1" height="1" fill="#1e90ff"/><rect x="164" y="688" width="1" height="1" fill="#1e90ff"/><rect x="467" y="688" width="1" height="1" fill="#1e90ff"/><rect x="510" y="688" width="2" height="1" fill="#1e90ff"/><rect x="531" y="688" width="1" height="1" fill="#1e90ff"/><rect x="761" y="688" width="1" height="1" fill="#1e90ff"/><rect x="782" y="688" width="2" height="1" fill="#1e90ff"/><rect x="902" y="688" width="1" height="1" fill="#1e90ff"/><rect x="904" y="688" width="2" height="1" fill="#1e90ff"/><rect x="916" y="688" width="3" height="1" fill="#1e90ff"/><rect x="944" y="688" width="1" height="1" fill="#1e90ff"/><rect x="298" y="710" width="3" height="1" fill="#1e90ff"/><rect x="362" y="710" width="1" height="1" fill="#1e90ff"/><rect x="373" y="710" width="13" height="1" fill="#1e90ff"/><rect x="392" y="710" width="2" height="1" fill="#1e90ff"/><rect x="399" y="710" width="1" height="1" fill="#1e90ff"/><rect x="451" y="710" width="1" height="1" fill="#1e90ff"/><rect x="460" y="710" width="1" height="1" fill="#1e90ff"/><rect x="462" y="710" width="1" height="1" fill="#1e90ff"/><rect x="616" y="710" width="4" height="1" fill="#1e90ff"/><rect x="623" y="710" width="1" height="1" fill="#1e90ff"/><rect x="644" y="710" width="3" height="1" fill="#1e90ff"/><rect x="658" y="710" width="1" height="1" fill="#1e90ff"/><rect x="671" y="710" width="1" height="1" fill="#1e90ff"/><rect x="716" y="710" width="1" height="1" fill="#1e90ff"/><rect x="187" y="700" width="1" height="1" fill="#1e90ff"/><rect x="210" y="700" width="1" height="1" fill="#1e90ff"/><rect x="238" y="700" width="1" height="1" fill="#1e90ff"/><rect x="260" y="700" width="3" height="1" fill="#1e90ff"/><rect x="289" y="700" width="1" height="1" fill="#1e90ff"/><rect x="464" y="700" width="1" height="1" fill="#1e90ff"/><rect x="596" y="700" width="1" height="1" fill="#1e90ff"/><rect x="729" y="700" width="1" height="1" fill="#1e90ff"/><rect x="17" y="664" width="1" height="1" fill="#1e90ff"/><rect x="41" y="664" width="1" height="1" fill="#1e90ff"/><rect x="53" y="664" width="3" height="1" fill="#1e90ff"/><rect x="114" y="664" width="1" height="1" fill="#1e90ff"/><rect x="1075" y="664" width="2" height="1" fill="#1e90ff"/><rect x="1079" y="664" width="1" height="1" fill="#1e90ff"/><rect x="1130" y="664" width="1" height="1" fill="#1e90ff"/><rect x="1172" y="664" width="1" height="1" fill="#1e90ff"/><rect x="1179" y="664" width="2" height="1" fill="#1e90ff"/><rect x="1310" y="664" width="4" height="1" fill="#1e90ff"/><rect x="1322" y="664" width="8" height="1" fill="#1e90ff"/><rect x="124" y="676" width="2" height="1" fill="#1e90ff"/><rect x="127" y="676" width="1" height="1" fill="#1e90ff"/><rect x="154" y="676" width="1" height="1" fill="#1e90ff"/><rect x="469" y="676" width="1" height="1" fill="#1e90ff"/><rect x="480" y="676" width="1" height="1" fill="#1e90ff"/><rect x="814" y="676" width="4" height="1" fill="#1e90ff"/><rect x="852" y="676" width="6" height="1" fill="#1e90ff"/><rect x="897" y="676" width="1" height="1" fill="#1e90ff"/><rect x="958" y="676" width="1" height="1" fill="#1e90ff"/><rect x="995" y="676" width="2" height="1" fill="#1e90ff"/><rect x="1015" y="676" width="1" height="1" fill="#1e90ff"/><rect x="1046" y="676" width="1" height="1" fill="#1e90ff"/><rect x="1064" y="676" width="1" height="1" fill="#1e90ff"/><rect x="161" y="684" width="1" height="1" fill="#1e90ff"/><rect x="467" y="684" width="1" height="1" fill="#1e90ff"/><rect x="503" y="684" width="2" height="1" fill="#1e90ff"/><rect x="522" y="684" width="3" height="1" fill="#1e90ff"/><rect x="527" y="684" width="1" height="1" fill="#1e90ff"/><rect x="763" y="684" width="1" height="1" fill="#1e90ff"/><rect x="778" y="684" width="1" height="1" fill="#1e90ff"/><rect x="793" y="684" width="2" height="1" fill="#1e90ff"/><rect x="900" y="684" width="1" height="1" fill="#1e90ff"/><rect x="949" y="684" width="1" height="1" fill="#1e90ff"/><rect x="1021" y="684" width="1" height="1" fill="#1e90ff"/><rect x="1040" y="684" width="1" height="1" fill="#1e90ff"/><rect x="200" y="705" width="2" height="1" fill="#1e90ff"/><rect x="208" y="705" width="1" height="1" fill="#1e90ff"/><rect x="292" y="705" width="1" height="1" fill="#1e90ff"/><rect x="454" y="705" width="1" height="1" fill="#1e90ff"/><rect x="463" y="705" width="1" height="1" fill="#1e90ff"/><rect x="603" y="705" width="2" height="1" fill="#1e90ff"/><rect x="629" y="705" width="1" height="1" fill="#1e90ff"/><rect x="631" y="705" width="2" height="1" fill="#1e90ff"/><rect x="725" y="705" width="2" height="1" fill="#1e90ff"/><rect x="15" y="661" width="1" height="1" fill="#1e90ff"/><rect x="45" y="661" width="1" height="1" fill="#1e90ff"/><rect x="47" y="661" width="2" height="1" fill="#1e90ff"/><rect x="61" y="661" width="2" height="1" fill="#1e90ff"/><rect x="90" y="661" width="2" height="1" fill="#1e90ff"/><rect x="98" y="661" width="3" height="1" fill="#1e90ff"/><rect x="112" y="661" width="1" height="1" fill="#1e90ff"/><rect x="1133" y="661" width="1" height="1" fill="#1e90ff"/><rect x="1170" y="661" width="1" height="1" fill="#1e90ff"/><rect x="1185" y="661" width="2" height="1" fill="#1e90ff"/><rect x="1309" y="661" width="1" height="1" fill="#1e90ff"/><rect x="170" y="695" width="1" height="1" fill="#1e90ff"/><rect x="180" y="695" width="2" height="1" fill="#1e90ff"/><rect x="183" y="695" width="1" height="1" fill="#1e90ff"/><rect x="213" y="695" width="1" height="1" fill="#1e90ff"/><rect x="231" y="695" width="1" height="1" fill="#1e90ff"/><rect x="271" y="695" width="2" height="1" fill="#1e90ff"/><rect x="287" y="695" width="1" height="1" fill="#1e90ff"/><rect x="465" y="695" width="1" height="1" fill="#1e90ff"/><rect x="541" y="695" width="3" height="1" fill="#1e90ff"/><rect x="554" y="695" width="1" height="1" fill="#1e90ff"/><rect x="570" y="695" width="3" height="1" fill="#1e90ff"/><rect x="575" y="695" width="1" height="1" fill="#1e90ff"/><rect x="590" y="695" width="1" height="1" fill="#1e90ff"/><rect x="731" y="695" width="1" height="1" fill="#1e90ff"/><rect x="739" y="695" width="1" height="1" fill="#1e90ff"/><rect x="747" y="695" width="2" height="1" fill="#1e90ff"/><rect x="926" y="695" width="4" height="1" fill="#1e90ff"/><rect x="202" y="706" width="1" height="1" fill="#1e90ff"/><rect x="207" y="706" width="1" height="1" fill="#1e90ff"/><rect x="293" y="706" width="1" height="1" fill="#1e90ff"/><rect x="366" y="706" width="1" height="1" fill="#1e90ff"/><rect x="453" y="706" width="1" height="1" fill="#1e90ff"/><rect x="455" y="706" width="1" height="1" fill="#1e90ff"/><rect x="463" y="706" width="1" height="1" fill="#1e90ff"/><rect x="605" y="706" width="3" height="1" fill="#1e90ff"/><rect x="628" y="706" width="1" height="1" fill="#1e90ff"/><rect x="633" y="706" width="2" height="1" fill="#1e90ff"/><rect x="662" y="706" width="4" height="1" fill="#1e90ff"/><rect x="722" y="706" width="3" height="1" fill="#1e90ff"/><rect x="0" y="657" width="1" height="1" fill="#1e90ff"/><rect x="66" y="657" width="1" height="1" fill="#1e90ff"/><rect x="80" y="657" width="4" height="1" fill="#1e90ff"/><rect x="1148" y="657" width="3" height="1" fill="#1e90ff"/><rect x="1167" y="657" width="1" height="1" fill="#1e90ff"/><rect x="1192" y="657" width="1" height="1" fill="#1e90ff"/><rect x="1307" y="657" width="1" height="1" fill="#1e90ff"/><rect x="204" y="708" width="3" height="1" fill="#1e90ff"/><rect x="294" y="708" width="2" height="1" fill="#1e90ff"/><rect x="364" y="708" width="1" height="1" fill="#1e90ff"/><rect x="369" y="708" width="2" height="1" fill="#1e90ff"/><rect x="397" y="708" width="2" height="1" fill="#1e90ff"/><rect x="452" y="708" width="1" height="1" fill="#1e90ff"/><rect x="457" y="708" width="1" height="1" fill="#1e90ff"/><rect x="463" y="708" width="1" height="1" fill="#1e90ff"/><rect x="610" y="708" width="3" height="1" fill="#1e90ff"/><rect x="625" y="708" width="1" height="1" fill="#1e90ff"/><rect x="637" y="708" width="3" height="1" fill="#1e90ff"/><rect x="660" y="708" width="1" height="1" fill="#1e90ff"/><rect x="670" y="708" width="1" height="1" fill="#1e90ff"/><rect x="718" y="708" width="2" height="1" fill="#1e90ff"/><rect x="20" y="667" width="1" height="1" fill="#1e90ff"/><rect x="37" y="667" width="2" height="1" fill="#1e90ff"/><rect x="116" y="667" width="1" height="1" fill="#1e90ff"/><rect x="141" y="667" width="2" height="1" fill="#1e90ff"/><rect x="832" y="667" width="4" height="1" fill="#1e90ff"/><rect x="839" y="667" width="1" height="1" fill="#1e90ff"/><rect x="1070" y="667" width="1" height="1" fill="#1e90ff"/><rect x="1081" y="667" width="1" height="1" fill="#1e90ff"/><rect x="1104" y="667" width="2" height="1" fill="#1e90ff"/><rect x="1112" y="667" width="2" height="1" fill="#1e90ff"/><rect x="1127" y="667" width="1" height="1" fill="#1e90ff"/><rect x="1174" y="667" width="1" height="1" fill="#1e90ff"/><rect x="1336" y="667" width="1" height="1" fill="#1e90ff"/><rect x="5" y="660" width="10" height="1" fill="#1e90ff"/><rect x="46" y="660" width="1" height="1" fill="#1e90ff"/><rect x="63" y="660" width="1" height="1" fill="#1e90ff"/><rect x="89" y="660" width="1" height="1" fill="#1e90ff"/><rect x="101" y="660" width="3" height="1" fill="#1e90ff"/><rect x="111" y="660" width="1" height="1" fill="#1e90ff"/><rect x="1134" y="660" width="4" height="1" fill="#1e90ff"/><rect x="1169" y="660" width="1" height="1" fill="#1e90ff"/><rect x="1187" y="660" width="2" height="1" fill="#1e90ff"/><rect x="1308" y="660" width="1" height="1" fill="#1e90ff"/><rect x="16" y="663" width="1" height="1" fill="#1e90ff"/><rect x="42" y="663" width="2" height="1" fill="#1e90ff"/><rect x="51" y="663" width="2" height="1" fill="#1e90ff"/><rect x="56" y="663" width="2" height="1" fill="#1e90ff"/><rect x="94" y="663" width="2" height="1" fill="#1e90ff"/><rect x="113" y="663" width="1" height="1" fill="#1e90ff"/><rect x="1077" y="663" width="2" height="1" fill="#1e90ff"/><rect x="1131" y="663" width="1" height="1" fill="#1e90ff"/><rect x="1171" y="663" width="1" height="1" fill="#1e90ff"/><rect x="1181" y="663" width="2" height="1" fill="#1e90ff"/><rect x="1310" y="663" width="1" height="1" fill="#1e90ff"/><rect x="160" y="682" width="1" height="1" fill="#1e90ff"/><rect x="468" y="682" width="1" height="1" fill="#1e90ff"/><rect x="490" y="682" width="8" height="1" fill="#1e90ff"/><rect x="765" y="682" width="1" height="1" fill="#1e90ff"/><rect x="776" y="682" width="1" height="1" fill="#1e90ff"/><rect x="797" y="682" width="5" height="1" fill="#1e90ff"/><rect x="899" y="682" width="1" height="1" fill="#1e90ff"/><rect x="951" y="682" width="1" height="1" fill="#1e90ff"/><rect x="1020" y="682" width="1" height="1" fill="#1e90ff"/><rect x="1042" y="682" width="1" height="1" fill="#1e90ff"/><rect x="68" y="655" width="1" height="1" fill="#1e90ff"/><rect x="74" y="655" width="3" height="1" fill="#1e90ff"/><rect x="1153" y="655" width="2" height="1" fill="#1e90ff"/><rect x="1162" y="655" width="3" height="1" fill="#1e90ff"/><rect x="1194" y="655" width="1" height="1" fill="#1e90ff"/><rect x="1204" y="655" width="2" height="1" fill="#1e90ff"/><rect x="1207" y="655" width="1" height="1" fill="#1e90ff"/><rect x="1306" y="655" width="1" height="1" fill="#1e90ff"/><rect x="16" y="662" width="1" height="1" fill="#1e90ff"/><rect x="44" y="662" width="1" height="1" fill="#1e90ff"/><rect x="49" y="662" width="2" height="1" fill="#1e90ff"/><rect x="58" y="662" width="3" height="1" fill="#1e90ff"/><rect x="92" y="662" width="2" height="1" fill="#1e90ff"/><rect x="96" y="662" width="2" height="1" fill="#1e90ff"/><rect x="112" y="662" width="1" height="1" fill="#1e90ff"/><rect x="1132" y="662" width="1" height="1" fill="#1e90ff"/><rect x="1170" y="662" width="1" height="1" fill="#1e90ff"/><rect x="1183" y="662" width="2" height="1" fill="#1e90ff"/><rect x="1309" y="662" width="1" height="1" fill="#1e90ff"/><rect x="172" y="697" width="1" height="1" fill="#1e90ff"/><rect x="177" y="697" width="1" height="1" fill="#1e90ff"/><rect x="185" y="697" width="1" height="1" fill="#1e90ff"/><rect x="212" y="697" width="1" height="1" fill="#1e90ff"/><rect x="234" y="697" width="1" height="1" fill="#1e90ff"/><rect x="243" y="697" width="2" height="1" fill="#1e90ff"/><rect x="248" y="697" width="4" height="1" fill="#1e90ff"/><rect x="267" y="697" width="2" height="1" fill="#1e90ff"/><rect x="288" y="697" width="1" height="1" fill="#1e90ff"/><rect x="465" y="697" width="1" height="1" fill="#1e90ff"/><rect x="546" y="697" width="3" height="1" fill="#1e90ff"/><rect x="551" y="697" width="1" height="1" fill="#1e90ff"/><rect x="592" y="697" width="1" height="1" fill="#1e90ff"/><rect x="730" y="697" width="1" height="1" fill="#1e90ff"/><rect x="741" y="697" width="1" height="1" fill="#1e90ff"/><rect x="743" y="697" width="2" height="1" fill="#1e90ff"/><rect x="1237" y="642" width="3" height="1" fill="#1e90ff"/><rect x="1249" y="642" width="1" height="1" fill="#1e90ff"/><rect x="164" y="687" width="1" height="1" fill="#1e90ff"/><rect x="467" y="687" width="1" height="1" fill="#1e90ff"/><rect x="508" y="687" width="2" height="1" fill="#1e90ff"/><rect x="512" y="687" width="4" height="1" fill="#1e90ff"/><rect x="530" y="687" width="1" height="1" fill="#1e90ff"/><rect x="761" y="687" width="1" height="1" fill="#1e90ff"/><rect x="781" y="687" width="1" height="1" fill="#1e90ff"/><rect x="784" y="687" width="4" height="1" fill="#1e90ff"/><rect x="901" y="687" width="1" height="1" fill="#1e90ff"/><rect x="906" y="687" width="3" height="1" fill="#1e90ff"/><rect x="912" y="687" width="4" height="1" fill="#1e90ff"/><rect x="945" y="687" width="1" height="1" fill="#1e90ff"/><rect x="1028" y="687" width="11" height="1" fill="#1e90ff"/><rect x="306" y="712" width="5" height="1" fill="#1e90ff"/><rect x="334" y="712" width="10" height="1" fill="#1e90ff"/><rect x="360" y="712" width="1" height="1" fill="#1e90ff"/><rect x="401" y="712" width="1" height="1" fill="#1e90ff"/><rect x="450" y="712" width="1" height="1" fill="#1e90ff"/><rect x="462" y="712" width="1" height="1" fill="#1e90ff"/><rect x="649" y="712" width="2" height="1" fill="#1e90ff"/><rect x="656" y="712" width="1" height="1" fill="#1e90ff"/><rect x="672" y="712" width="1" height="1" fill="#1e90ff"/><rect x="714" y="712" width="1" height="1" fill="#1e90ff"/><rect x="301" y="711" width="5" height="1" fill="#1e90ff"/><rect x="361" y="711" width="1" height="1" fill="#1e90ff"/><rect x="386" y="711" width="6" height="1" fill="#1e90ff"/><rect x="400" y="711" width="1" height="1" fill="#1e90ff"/><rect x="451" y="711" width="1" height="1" fill="#1e90ff"/><rect x="461" y="711" width="2" height="1" fill="#1e90ff"/><rect x="620" y="711" width="3" height="1" fill="#1e90ff"/><rect x="647" y="711" width="2" height="1" fill="#1e90ff"/><rect x="657" y="711" width="1" height="1" fill="#1e90ff"/><rect x="672" y="711" width="1" height="1" fill="#1e90ff"/><rect x="715" y="711" width="1" height="1" fill="#1e90ff"/><rect x="168" y="692" width="1" height="1" fill="#1e90ff"/><rect x="214" y="692" width="2" height="1" fill="#1e90ff"/><rect x="277" y="692" width="3" height="1" fill="#1e90ff"/><rect x="466" y="692" width="1" height="1" fill="#1e90ff"/><rect x="535" y="692" width="2" height="1" fill="#1e90ff"/><rect x="558" y="692" width="4" height="1" fill="#1e90ff"/><rect x="579" y="692" width="1" height="1" fill="#1e90ff"/><rect x="585" y="692" width="1" height="1" fill="#1e90ff"/><rect x="733" y="692" width="1" height="1" fill="#1e90ff"/><rect x="736" y="692" width="1" height="1" fill="#1e90ff"/><rect x="756" y="692" width="3" height="1" fill="#1e90ff"/><rect x="922" y="692" width="2" height="1" fill="#1e90ff"/><rect x="937" y="692" width="2" height="1" fill="#1e90ff"/><rect x="171" y="696" width="1" height="1" fill="#1e90ff"/><rect x="178" y="696" width="2" height="1" fill="#1e90ff"/><rect x="184" y="696" width="1" height="1" fill="#1e90ff"/><rect x="212" y="696" width="1" height="1" fill="#1e90ff"/><rect x="232" y="696" width="2" height="1" fill="#1e90ff"/><rect x="245" y="696" width="3" height="1" fill="#1e90ff"/><rect x="269" y="696" width="2" height="1" fill="#1e90ff"/><rect x="287" y="696" width="1" height="1" fill="#1e90ff"/><rect x="465" y="696" width="1" height="1" fill="#1e90ff"/><rect x="544" y="696" width="2" height="1" fill="#1e90ff"/><rect x="552" y="696" width="2" height="1" fill="#1e90ff"/><rect x="573" y="696" width="2" height="1" fill="#1e90ff"/><rect x="591" y="696" width="1" height="1" fill="#1e90ff"/><rect x="731" y="696" width="1" height="1" fill="#1e90ff"/><rect x="740" y="696" width="1" height="1" fill="#1e90ff"/><rect x="745" y="696" width="2" height="1" fill="#1e90ff"/><rect x="318" y="721" width="2" height="1" fill="#1e90ff"/><rect x="410" y="721" width="6" height="1" fill="#1e90ff"/><rect x="676" y="721" width="1" height="1" fill="#1e90ff"/><rect x="691" y="721" width="1" height="1" fill="#1e90ff"/><rect x="314" y="717" width="1" height="1" fill="#1e90ff"/><rect x="327" y="717" width="1" height="1" fill="#1e90ff"/><rect x="404" y="717" width="1" height="1" fill="#1e90ff"/><rect x="447" y="717" width="1" height="1" fill="#1e90ff"/><rect x="674" y="717" width="1" height="1" fill="#1e90ff"/><rect x="693" y="717" width="1" height="1" fill="#1e90ff"/><rect x="1214" y="650" width="9" height="1" fill="#1e90ff"/><rect x="1266" y="650" width="3" height="1" fill="#1e90ff"/><rect x="1282" y="650" width="8" height="1" fill="#1e90ff"/><rect x="1303" y="650" width="1" height="1" fill="#1e90ff"/><rect x="159" y="681" width="1" height="1" fill="#1e90ff"/><rect x="468" y="681" width="1" height="1" fill="#1e90ff"/><rect x="486" y="681" width="4" height="1" fill="#1e90ff"/><rect x="765" y="681" width="1" height="1" fill="#1e90ff"/><rect x="775" y="681" width="1" height="1" fill="#1e90ff"/><rect x="802" y="681" width="5" height="1" fill="#1e90ff"/><rect x="899" y="681" width="1" height="1" fill="#1e90ff"/><rect x="952" y="681" width="1" height="1" fill="#1e90ff"/><rect x="1019" y="681" width="1" height="1" fill="#1e90ff"/><rect x="1042" y="681" width="1" height="1" fill="#1e90ff"/><rect x="1054" y="681" width="4" height="1" fill="#1e90ff"/><rect x="311" y="713" width="1" height="1" fill="#1e90ff"/><rect x="332" y="713" width="2" height="1" fill="#1e90ff"/><rect x="344" y="713" width="4" height="1" fill="#1e90ff"/><rect x="359" y="713" width="1" height="1" fill="#1e90ff"/><rect x="401" y="713" width="1" height="1" fill="#1e90ff"/><rect x="449" y="713" width="1" height="1" fill="#1e90ff"/><rect x="651" y="713" width="2" height="1" fill="#1e90ff"/><rect x="655" y="713" width="1" height="1" fill="#1e90ff"/><rect x="673" y="713" width="1" height="1" fill="#1e90ff"/><rect x="713" y="713" width="1" height="1" fill="#1e90ff"/><rect x="316" y="719" width="1" height="1" fill="#1e90ff"/><rect x="322" y="719" width="3" height="1" fill="#1e90ff"/><rect x="405" y="719" width="1" height="1" fill="#1e90ff"/><rect x="420" y="719" width="27" height="1" fill="#1e90ff"/><rect x="675" y="719" width="1" height="1" fill="#1e90ff"/><rect x="692" y="719" width="1" height="1" fill="#1e90ff"/><rect x="119" y="672" width="1" height="1" fill="#1e90ff"/><rect x="132" y="672" width="2" height="1" fill="#1e90ff"/><rect x="151" y="672" width="1" height="1" fill="#1e90ff"/><rect x="470" y="672" width="1" height="1" fill="#1e90ff"/><rect x="473" y="672" width="2" height="1" fill="#1e90ff"/><rect x="825" y="672" width="1" height="1" fill="#1e90ff"/><rect x="844" y="672" width="1" height="1" fill="#1e90ff"/><rect x="869" y="672" width="2" height="1" fill="#1e90ff"/><rect x="896" y="672" width="1" height="1" fill="#1e90ff"/><rect x="1005" y="672" width="3" height="1" fill="#1e90ff"/><rect x="1067" y="672" width="1" height="1" fill="#1e90ff"/><rect x="1084" y="672" width="1" height="1" fill="#1e90ff"/><rect x="1090" y="672" width="2" height="1" fill="#1e90ff"/><rect x="1340" y="672" width="1" height="1" fill="#1e90ff"/><rect x="314" y="716" width="1" height="1" fill="#1e90ff"/><rect x="328" y="716" width="2" height="1" fill="#1e90ff"/><rect x="403" y="716" width="1" height="1" fill="#1e90ff"/><rect x="448" y="716" width="1" height="1" fill="#1e90ff"/><rect x="674" y="716" width="1" height="1" fill="#1e90ff"/><rect x="694" y="716" width="17" height="1" fill="#1e90ff"/><rect x="169" y="693" width="1" height="1" fill="#1e90ff"/><rect x="214" y="693" width="1" height="1" fill="#1e90ff"/><rect x="216" y="693" width="4" height="1" fill="#1e90ff"/><rect x="275" y="693" width="2" height="1" fill="#1e90ff"/><rect x="280" y="693" width="4" height="1" fill="#1e90ff"/><rect x="466" y="693" width="1" height="1" fill="#1e90ff"/><rect x="537" y="693" width="2" height="1" fill="#1e90ff"/><rect x="556" y="693" width="2" height="1" fill="#1e90ff"/><rect x="562" y="693" width="6" height="1" fill="#1e90ff"/><rect x="578" y="693" width="1" height="1" fill="#1e90ff"/><rect x="586" y="693" width="2" height="1" fill="#1e90ff"/><rect x="732" y="693" width="1" height="1" fill="#1e90ff"/><rect x="737" y="693" width="1" height="1" fill="#1e90ff"/><rect x="752" y="693" width="4" height="1" fill="#1e90ff"/><rect x="924" y="693" width="1" height="1" fill="#1e90ff"/><rect x="935" y="693" width="2" height="1" fill="#1e90ff"/><rect x="167" y="691" width="1" height="1" fill="#1e90ff"/><rect x="466" y="691" width="1" height="1" fill="#1e90ff"/><rect x="534" y="691" width="1" height="1" fill="#1e90ff"/><rect x="580" y="691" width="2" height="1" fill="#1e90ff"/><rect x="583" y="691" width="2" height="1" fill="#1e90ff"/><rect x="733" y="691" width="1" height="1" fill="#1e90ff"/><rect x="735" y="691" width="1" height="1" fill="#1e90ff"/><rect x="759" y="691" width="1" height="1" fill="#1e90ff"/><rect x="921" y="691" width="1" height="1" fill="#1e90ff"/><rect x="939" y="691" width="2" height="1" fill="#1e90ff"/><rect x="1223" y="649" width="2" height="1" fill="#1e90ff"/><rect x="1264" y="649" width="2" height="1" fill="#1e90ff"/><rect x="1290" y="649" width="8" height="1" fill="#1e90ff"/><rect x="1303" y="649" width="1" height="1" fill="#1e90ff"/><rect x="170" y="694" width="1" height="1" fill="#1e90ff"/><rect x="182" y="694" width="1" height="1" fill="#1e90ff"/><rect x="213" y="694" width="1" height="1" fill="#1e90ff"/><rect x="220" y="694" width="11" height="1" fill="#1e90ff"/><rect x="273" y="694" width="2" height="1" fill="#1e90ff"/><rect x="284" y="694" width="3" height="1" fill="#1e90ff"/><rect x="465" y="694" width="1" height="1" fill="#1e90ff"/><rect x="539" y="694" width="2" height="1" fill="#1e90ff"/><rect x="555" y="694" width="1" height="1" fill="#1e90ff"/><rect x="568" y="694" width="2" height="1" fill="#1e90ff"/><rect x="576" y="694" width="2" height="1" fill="#1e90ff"/><rect x="588" y="694" width="2" height="1" fill="#1e90ff"/><rect x="732" y="694" width="1" height="1" fill="#1e90ff"/><rect x="738" y="694" width="1" height="1" fill="#1e90ff"/><rect x="749" y="694" width="3" height="1" fill="#1e90ff"/><rect x="925" y="694" width="1" height="1" fill="#1e90ff"/><rect x="930" y="694" width="5" height="1" fill="#1e90ff"/><rect x="1229" y="646" width="2" height="1" fill="#1e90ff"/><rect x="1256" y="646" width="2" height="1" fill="#1e90ff"/><rect x="22" y="670" width="10" height="1" fill="#1e90ff"/><rect x="117" y="670" width="1" height="1" fill="#1e90ff"/><rect x="135" y="670" width="2" height="1" fill="#1e90ff"/><rect x="147" y="670" width="2" height="1" fill="#1e90ff"/><rect x="470" y="670" width="1" height="1" fill="#1e90ff"/><rect x="828" y="670" width="1" height="1" fill="#1e90ff"/><rect x="842" y="670" width="1" height="1" fill="#1e90ff"/><rect x="873" y="670" width="2" height="1" fill="#1e90ff"/><rect x="895" y="670" width="1" height="1" fill="#1e90ff"/><rect x="1068" y="670" width="1" height="1" fill="#1e90ff"/><rect x="1083" y="670" width="1" height="1" fill="#1e90ff"/><rect x="1094" y="670" width="2" height="1" fill="#1e90ff"/><rect x="1116" y="670" width="2" height="1" fill="#1e90ff"/><rect x="1120" y="670" width="2" height="1" fill="#1e90ff"/><rect x="1338" y="670" width="1" height="1" fill="#1e90ff"/><rect x="19" y="666" width="1" height="1" fill="#1e90ff"/><rect x="39" y="666" width="1" height="1" fill="#1e90ff"/><rect x="115" y="666" width="1" height="1" fill="#1e90ff"/><rect x="836" y="666" width="3" height="1" fill="#1e90ff"/><rect x="1071" y="666" width="2" height="1" fill="#1e90ff"/><rect x="1080" y="666" width="1" height="1" fill="#1e90ff"/><rect x="1106" y="666" width="3" height="1" fill="#1e90ff"/><rect x="1111" y="666" width="1" height="1" fill="#1e90ff"/><rect x="1128" y="666" width="1" height="1" fill="#1e90ff"/><rect x="1173" y="666" width="1" height="1" fill="#1e90ff"/><rect x="1175" y="666" width="2" height="1" fill="#1e90ff"/><rect x="1335" y="666" width="1" height="1" fill="#1e90ff"/><rect x="21" y="669" width="1" height="1" fill="#1e90ff"/><rect x="32" y="669" width="2" height="1" fill="#1e90ff"/><rect x="117" y="669" width="1" height="1" fill="#1e90ff"/><rect x="137" y="669" width="2" height="1" fill="#1e90ff"/><rect x="145" y="669" width="2" height="1" fill="#1e90ff"/><rect x="829" y="669" width="1" height="1" fill="#1e90ff"/><rect x="841" y="669" width="1" height="1" fill="#1e90ff"/><rect x="875" y="669" width="2" height="1" fill="#1e90ff"/><rect x="894" y="669" width="1" height="1" fill="#1e90ff"/><rect x="1069" y="669" width="1" height="1" fill="#1e90ff"/><rect x="1082" y="669" width="1" height="1" fill="#1e90ff"/><rect x="1096" y="669" width="4" height="1" fill="#1e90ff"/><rect x="1115" y="669" width="1" height="1" fill="#1e90ff"/><rect x="1122" y="669" width="3" height="1" fill="#1e90ff"/><rect x="1337" y="669" width="1" height="1" fill="#1e90ff"/><rect x="1225" y="648" width="2" height="1" fill="#1e90ff"/><rect x="1261" y="648" width="3" height="1" fill="#1e90ff"/><rect x="1298" y="648" width="5" height="1" fill="#1e90ff"/><rect x="313" y="715" width="1" height="1" fill="#1e90ff"/><rect x="330" y="715" width="1" height="1" fill="#1e90ff"/><rect x="403" y="715" width="1" height="1" fill="#1e90ff"/><rect x="448" y="715" width="1" height="1" fill="#1e90ff"/><rect x="673" y="715" width="1" height="1" fill="#1e90ff"/><rect x="711" y="715" width="1" height="1" fill="#1e90ff"/><rect x="162" y="685" width="1" height="1" fill="#1e90ff"/><rect x="467" y="685" width="1" height="1" fill="#1e90ff"/><rect x="505" y="685" width="1" height="1" fill="#1e90ff"/><rect x="520" y="685" width="2" height="1" fill="#1e90ff"/><rect x="528" y="685" width="1" height="1" fill="#1e90ff"/><rect x="763" y="685" width="1" height="1" fill="#1e90ff"/><rect x="779" y="685" width="1" height="1" fill="#1e90ff"/><rect x="791" y="685" width="2" height="1" fill="#1e90ff"/><rect x="900" y="685" width="1" height="1" fill="#1e90ff"/><rect x="948" y="685" width="1" height="1" fill="#1e90ff"/><rect x="1022" y="685" width="2" height="1" fill="#1e90ff"/><rect x="1039" y="685" width="1" height="1" fill="#1e90ff"/><rect x="312" y="714" width="1" height="1" fill="#1e90ff"/><rect x="331" y="714" width="1" height="1" fill="#1e90ff"/><rect x="348" y="714" width="11" height="1" fill="#1e90ff"/><rect x="402" y="714" width="1" height="1" fill="#1e90ff"/><rect x="449" y="714" width="1" height="1" fill="#1e90ff"/><rect x="653" y="714" width="2" height="1" fill="#1e90ff"/><rect x="673" y="714" width="1" height="1" fill="#1e90ff"/><rect x="712" y="714" width="1" height="1" fill="#1e90ff"/><rect x="18" y="665" width="1" height="1" fill="#1e90ff"/><rect x="40" y="665" width="1" height="1" fill="#1e90ff"/><rect x="114" y="665" width="1" height="1" fill="#1e90ff"/><rect x="1073" y="665" width="2" height="1" fill="#1e90ff"/><rect x="1079" y="665" width="1" height="1" fill="#1e90ff"/><rect x="1109" y="665" width="2" height="1" fill="#1e90ff"/><rect x="1129" y="665" width="1" height="1" fill="#1e90ff"/><rect x="1173" y="665" width="1" height="1" fill="#1e90ff"/><rect x="1177" y="665" width="2" height="1" fill="#1e90ff"/><rect x="1314" y="665" width="8" height="1" fill="#1e90ff"/><rect x="1330" y="665" width="5" height="1" fill="#1e90ff"/><rect x="203" y="707" width="1" height="1" fill="#1e90ff"/><rect x="207" y="707" width="1" height="1" fill="#1e90ff"/><rect x="293" y="707" width="1" height="1" fill="#1e90ff"/><rect x="365" y="707" width="1" height="1" fill="#1e90ff"/><rect x="367" y="707" width="2" height="1" fill="#1e90ff"/><rect x="453" y="707" width="1" height="1" fill="#1e90ff"/><rect x="456" y="707" width="1" height="1" fill="#1e90ff"/><rect x="463" y="707" width="1" height="1" fill="#1e90ff"/><rect x="608" y="707" width="2" height="1" fill="#1e90ff"/><rect x="626" y="707" width="2" height="1" fill="#1e90ff"/><rect x="635" y="707" width="2" height="1" fill="#1e90ff"/><rect x="661" y="707" width="1" height="1" fill="#1e90ff"/><rect x="666" y="707" width="5" height="1" fill="#1e90ff"/><rect x="720" y="707" width="2" height="1" fill="#1e90ff"/><rect x="206" y="709" width="1" height="1" fill="#1e90ff"/><rect x="296" y="709" width="2" height="1" fill="#1e90ff"/><rect x="363" y="709" width="1" height="1" fill="#1e90ff"/><rect x="371" y="709" width="2" height="1" fill="#1e90ff"/><rect x="394" y="709" width="3" height="1" fill="#1e90ff"/><rect x="399" y="709" width="1" height="1" fill="#1e90ff"/><rect x="452" y="709" width="1" height="1" fill="#1e90ff"/><rect x="458" y="709" width="2" height="1" fill="#1e90ff"/><rect x="463" y="709" width="1" height="1" fill="#1e90ff"/><rect x="613" y="709" width="3" height="1" fill="#1e90ff"/><rect x="624" y="709" width="1" height="1" fill="#1e90ff"/><rect x="640" y="709" width="4" height="1" fill="#1e90ff"/><rect x="659" y="709" width="1" height="1" fill="#1e90ff"/><rect x="671" y="709" width="1" height="1" fill="#1e90ff"/><rect x="717" y="709" width="1" height="1" fill="#1e90ff"/><rect x="174" y="699" width="1" height="1" fill="#1e90ff"/><rect x="186" y="699" width="1" height="1" fill="#1e90ff"/><rect x="211" y="699" width="1" height="1" fill="#1e90ff"/><rect x="236" y="699" width="2" height="1" fill="#1e90ff"/><rect x="239" y="699" width="2" height="1" fill="#1e90ff"/><rect x="256" y="699" width="4" height="1" fill="#1e90ff"/><rect x="263" y="699" width="2" height="1" fill="#1e90ff"/><rect x="289" y="699" width="1" height="1" fill="#1e90ff"/><rect x="464" y="699" width="1" height="1" fill="#1e90ff"/><rect x="594" y="699" width="2" height="1" fill="#1e90ff"/><rect x="729" y="699" width="1" height="1" fill="#1e90ff"/><rect x="158" y="680" width="1" height="1" fill="#1e90ff"/><rect x="468" y="680" width="1" height="1" fill="#1e90ff"/><rect x="485" y="680" width="1" height="1" fill="#1e90ff"/><rect x="766" y="680" width="9" height="1" fill="#1e90ff"/><rect x="807" y="680" width="2" height="1" fill="#1e90ff"/><rect x="899" y="680" width="1" height="1" fill="#1e90ff"/><rect x="953" y="680" width="1" height="1" fill="#1e90ff"/><rect x="965" y="680" width="11" height="1" fill="#1e90ff"/><rect x="1018" y="680" width="1" height="1" fill="#1e90ff"/><rect x="1043" y="680" width="1" height="1" fill="#1e90ff"/><rect x="1052" y="680" width="2" height="1" fill="#1e90ff"/><rect x="1058" y="680" width="5" height="1" fill="#1e90ff"/><rect x="199" y="704" width="1" height="1" fill="#1e90ff"/><rect x="208" y="704" width="1" height="1" fill="#1e90ff"/><rect x="292" y="704" width="1" height="1" fill="#1e90ff"/><rect x="464" y="704" width="1" height="1" fill="#1e90ff"/><rect x="601" y="704" width="2" height="1" fill="#1e90ff"/><rect x="630" y="704" width="1" height="1" fill="#1e90ff"/><rect x="727" y="704" width="1" height="1" fill="#1e90ff"/><rect x="157" y="679" width="1" height="1" fill="#1e90ff"/><rect x="468" y="679" width="1" height="1" fill="#1e90ff"/><rect x="484" y="679" width="1" height="1" fill="#1e90ff"/><rect x="809" y="679" width="1" height="1" fill="#1e90ff"/><rect x="898" y="679" width="1" height="1" fill="#1e90ff"/><rect x="954" y="679" width="2" height="1" fill="#1e90ff"/><rect x="963" y="679" width="2" height="1" fill="#1e90ff"/><rect x="976" y="679" width="4" height="1" fill="#1e90ff"/><rect x="986" y="679" width="5" height="1" fill="#1e90ff"/><rect x="1018" y="679" width="1" height="1" fill="#1e90ff"/><rect x="1044" y="679" width="1" height="1" fill="#1e90ff"/><rect x="1050" y="679" width="2" height="1" fill="#1e90ff"/><rect x="1063" y="679" width="1" height="1" fill="#1e90ff"/><rect x="122" y="674" width="1" height="1" fill="#1e90ff"/><rect x="130" y="674" width="1" height="1" fill="#1e90ff"/><rect x="153" y="674" width="1" height="1" fill="#1e90ff"/><rect x="469" y="674" width="1" height="1" fill="#1e90ff"/><rect x="477" y="674" width="2" height="1" fill="#1e90ff"/><rect x="823" y="674" width="1" height="1" fill="#1e90ff"/><rect x="846" y="674" width="2" height="1" fill="#1e90ff"/><rect x="864" y="674" width="2" height="1" fill="#1e90ff"/><rect x="896" y="674" width="1" height="1" fill="#1e90ff"/><rect x="1000" y="674" width="2" height="1" fill="#1e90ff"/><rect x="1012" y="674" width="3" height="1" fill="#1e90ff"/><rect x="1066" y="674" width="1" height="1" fill="#1e90ff"/><rect x="1085" y="674" width="1" height="1" fill="#1e90ff"/><rect x="1087" y="674" width="2" height="1" fill="#1e90ff"/><rect x="1341" y="674" width="1" height="1" fill="#1e90ff"/><rect x="126" y="677" width="1" height="1" fill="#1e90ff"/><rect x="155" y="677" width="1" height="1" fill="#1e90ff"/><rect x="469" y="677" width="1" height="1" fill="#1e90ff"/><rect x="481" y="677" width="1" height="1" fill="#1e90ff"/><rect x="812" y="677" width="2" height="1" fill="#1e90ff"/><rect x="897" y="677" width="1" height="1" fill="#1e90ff"/><rect x="957" y="677" width="1" height="1" fill="#1e90ff"/><rect x="959" y="677" width="2" height="1" fill="#1e90ff"/><rect x="993" y="677" width="2" height="1" fill="#1e90ff"/><rect x="1016" y="677" width="1" height="1" fill="#1e90ff"/><rect x="1045" y="677" width="1" height="1" fill="#1e90ff"/><rect x="1047" y="677" width="2" height="1" fill="#1e90ff"/><rect x="1064" y="677" width="1" height="1" fill="#1e90ff"/><rect x="166" y="690" width="1" height="1" fill="#1e90ff"/><rect x="466" y="690" width="1" height="1" fill="#1e90ff"/><rect x="533" y="690" width="1" height="1" fill="#1e90ff"/><rect x="582" y="690" width="1" height="1" fill="#1e90ff"/><rect x="734" y="690" width="1" height="1" fill="#1e90ff"/><rect x="759" y="690" width="1" height="1" fill="#1e90ff"/><rect x="920" y="690" width="1" height="1" fill="#1e90ff"/><rect x="941" y="690" width="2" height="1" fill="#1e90ff"/><rect x="120" y="673" width="2" height="1" fill="#1e90ff"/><rect x="131" y="673" width="1" height="1" fill="#1e90ff"/><rect x="152" y="673" width="1" height="1" fill="#1e90ff"/><rect x="469" y="673" width="1" height="1" fill="#1e90ff"/><rect x="475" y="673" width="2" height="1" fill="#1e90ff"/><rect x="824" y="673" width="1" height="1" fill="#1e90ff"/><rect x="845" y="673" width="1" height="1" fill="#1e90ff"/><rect x="866" y="673" width="3" height="1" fill="#1e90ff"/><rect x="896" y="673" width="1" height="1" fill="#1e90ff"/><rect x="1002" y="673" width="3" height="1" fill="#1e90ff"/><rect x="1008" y="673" width="4" height="1" fill="#1e90ff"/><rect x="1066" y="673" width="1" height="1" fill="#1e90ff"/><rect x="1085" y="673" width="1" height="1" fill="#1e90ff"/><rect x="1089" y="673" width="1" height="1" fill="#1e90ff"/><rect x="1340" y="673" width="1" height="1" fill="#1e90ff"/><rect x="118" y="671" width="1" height="1" fill="#1e90ff"/><rect x="134" y="671" width="1" height="1" fill="#1e90ff"/><rect x="149" y="671" width="2" height="1" fill="#1e90ff"/><rect x="470" y="671" width="3" height="1" fill="#1e90ff"/><rect x="826" y="671" width="2" height="1" fill="#1e90ff"/><rect x="843" y="671" width="1" height="1" fill="#1e90ff"/><rect x="871" y="671" width="2" height="1" fill="#1e90ff"/><rect x="895" y="671" width="1" height="1" fill="#1e90ff"/><rect x="1068" y="671" width="1" height="1" fill="#1e90ff"/><rect x="1083" y="671" width="1" height="1" fill="#1e90ff"/><rect x="1092" y="671" width="2" height="1" fill="#1e90ff"/><rect x="1118" y="671" width="2" height="1" fill="#1e90ff"/><rect x="1339" y="671" width="1" height="1" fill="#1e90ff"/><rect x="123" y="675" width="1" height="1" fill="#1e90ff"/><rect x="128" y="675" width="2" height="1" fill="#1e90ff"/><rect x="154" y="675" width="1" height="1" fill="#1e90ff"/><rect x="469" y="675" width="1" height="1" fill="#1e90ff"/><rect x="479" y="675" width="1" height="1" fill="#1e90ff"/><rect x="818" y="675" width="5" height="1" fill="#1e90ff"/><rect x="848" y="675" width="4" height="1" fill="#1e90ff"/><rect x="858" y="675" width="6" height="1" fill="#1e90ff"/><rect x="897" y="675" width="1" height="1" fill="#1e90ff"/><rect x="997" y="675" width="3" height="1" fill="#1e90ff"/><rect x="1015" y="675" width="1" height="1" fill="#1e90ff"/><rect x="1065" y="675" width="1" height="1" fill="#1e90ff"/><rect x="1086" y="675" width="1" height="1" fill="#1e90ff"/><rect x="1342" y="675" width="9" height="1" fill="#1e90ff"/><rect x="70" y="653" width="2" height="1" fill="#1e90ff"/><rect x="1157" y="653" width="3" height="1" fill="#1e90ff"/><rect x="1196" y="653" width="1" height="1" fill="#1e90ff"/><rect x="1201" y="653" width="1" height="1" fill="#1e90ff"/><rect x="1210" y="653" width="1" height="1" fill="#1e90ff"/><rect x="1305" y="653" width="1" height="1" fill="#1e90ff"/><rect x="684" y="728" width="3" height="1" fill="#1e90ff"/><rect x="188" y="701" width="1" height="1" fill="#1e90ff"/><rect x="210" y="701" width="1" height="1" fill="#1e90ff"/><rect x="290" y="701" width="1" height="1" fill="#1e90ff"/><rect x="464" y="701" width="1" height="1" fill="#1e90ff"/><rect x="597" y="701" width="1" height="1" fill="#1e90ff"/><rect x="728" y="701" width="1" height="1" fill="#1e90ff"/><rect x="20" y="668" width="1" height="1" fill="#1e90ff"/><rect x="34" y="668" width="3" height="1" fill="#1e90ff"/><rect x="116" y="668" width="1" height="1" fill="#1e90ff"/><rect x="139" y="668" width="2" height="1" fill="#1e90ff"/><rect x="143" y="668" width="2" height="1" fill="#1e90ff"/><rect x="830" y="668" width="2" height="1" fill="#1e90ff"/><rect x="840" y="668" width="1" height="1" fill="#1e90ff"/><rect x="877" y="668" width="18" height="1" fill="#1e90ff"/><rect x="1069" y="668" width="1" height="1" fill="#1e90ff"/><rect x="1081" y="668" width="1" height="1" fill="#1e90ff"/><rect x="1100" y="668" width="4" height="1" fill="#1e90ff"/><rect x="1114" y="668" width="1" height="1" fill="#1e90ff"/><rect x="1125" y="668" width="2" height="1" fill="#1e90ff"/><rect x="1336" y="668" width="1" height="1" fill="#1e90ff"/><rect x="189" y="702" width="1" height="1" fill="#1e90ff"/><rect x="209" y="702" width="1" height="1" fill="#1e90ff"/><rect x="291" y="702" width="1" height="1" fill="#1e90ff"/><rect x="464" y="702" width="1" height="1" fill="#1e90ff"/><rect x="598" y="702" width="1" height="1" fill="#1e90ff"/><rect x="728" y="702" width="1" height="1" fill="#1e90ff"/><rect x="173" y="698" width="1" height="1" fill="#1e90ff"/><rect x="175" y="698" width="2" height="1" fill="#1e90ff"/><rect x="186" y="698" width="1" height="1" fill="#1e90ff"/><rect x="211" y="698" width="1" height="1" fill="#1e90ff"/><rect x="235" y="698" width="1" height="1" fill="#1e90ff"/><rect x="241" y="698" width="2" height="1" fill="#1e90ff"/><rect x="252" y="698" width="4" height="1" fill="#1e90ff"/><rect x="265" y="698" width="2" height="1" fill="#1e90ff"/><rect x="288" y="698" width="1" height="1" fill="#1e90ff"/><rect x="465" y="698" width="1" height="1" fill="#1e90ff"/><rect x="549" y="698" width="2" height="1" fill="#1e90ff"/><rect x="593" y="698" width="1" height="1" fill="#1e90ff"/><rect x="730" y="698" width="1" height="1" fill="#1e90ff"/><rect x="742" y="698" width="1" height="1" fill="#1e90ff"/><rect x="156" y="678" width="1" height="1" fill="#1e90ff"/><rect x="468" y="678" width="1" height="1" fill="#1e90ff"/><rect x="482" y="678" width="2" height="1" fill="#1e90ff"/><rect x="810" y="678" width="2" height="1" fill="#1e90ff"/><rect x="898" y="678" width="1" height="1" fill="#1e90ff"/><rect x="956" y="678" width="1" height="1" fill="#1e90ff"/><rect x="961" y="678" width="2" height="1" fill="#1e90ff"/><rect x="980" y="678" width="6" height="1" fill="#1e90ff"/><rect x="991" y="678" width="2" height="1" fill="#1e90ff"/><rect x="1017" y="678" width="1" height="1" fill="#1e90ff"/><rect x="1045" y="678" width="1" height="1" fill="#1e90ff"/><rect x="1049" y="678" width="1" height="1" fill="#1e90ff"/><rect x="1063" y="678" width="1" height="1" fill="#1e90ff"/><rect x="315" y="718" width="1" height="1" fill="#1e90ff"/><rect x="325" y="718" width="2" height="1" fill="#1e90ff"/><rect x="405" y="718" width="1" height="1" fill="#1e90ff"/><rect x="447" y="718" width="1" height="1" fill="#1e90ff"/><rect x="675" y="718" width="1" height="1" fill="#1e90ff"/><rect x="693" y="718" width="1" height="1" fill="#1e90ff"/><rect x="160" y="683" width="1" height="1" fill="#1e90ff"/><rect x="468" y="683" width="1" height="1" fill="#1e90ff"/><rect x="498" y="683" width="5" height="1" fill="#1e90ff"/><rect x="525" y="683" width="2" height="1" fill="#1e90ff"/><rect x="764" y="683" width="1" height="1" fill="#1e90ff"/><rect x="777" y="683" width="1" height="1" fill="#1e90ff"/><rect x="795" y="683" width="2" height="1" fill="#1e90ff"/><rect x="900" y="683" width="1" height="1" fill="#1e90ff"/><rect x="950" y="683" width="1" height="1" fill="#1e90ff"/><rect x="1021" y="683" width="1" height="1" fill="#1e90ff"/><rect x="1041" y="683" width="1" height="1" fill="#1e90ff"/><rect x="317" y="720" width="1" height="1" fill="#1e90ff"/><rect x="320" y="720" width="2" height="1" fill="#1e90ff"/><rect x="406" y="720" width="4" height="1" fill="#1e90ff"/><rect x="416" y="720" width="4" height="1" fill="#1e90ff"/><rect x="675" y="720" width="1" height="1" fill="#1e90ff"/><rect x="691" y="720" width="1" height="1" fill="#1e90ff"/><rect x="1198" y="651" width="1" height="1" fill="#1e90ff"/><rect x="1212" y="651" width="2" height="1" fill="#1e90ff"/><rect x="1269" y="651" width="13" height="1" fill="#1e90ff"/><rect x="1304" y="651" width="1" height="1" fill="#1e90ff"/><rect x="69" y="654" width="1" height="1" fill="#1e90ff"/><rect x="72" y="654" width="2" height="1" fill="#1e90ff"/><rect x="1155" y="654" width="2" height="1" fill="#1e90ff"/><rect x="1160" y="654" width="2" height="1" fill="#1e90ff"/><rect x="1195" y="654" width="1" height="1" fill="#1e90ff"/><rect x="1202" y="654" width="2" height="1" fill="#1e90ff"/><rect x="1208" y="654" width="2" height="1" fill="#1e90ff"/><rect x="1305" y="654" width="1" height="1" fill="#1e90ff"/><rect x="1231" y="645" width="2" height="1" fill="#1e90ff"/><rect x="1254" y="645" width="2" height="1" fill="#1e90ff"/><rect x="3" y="659" width="2" height="1" fill="#1e90ff"/><rect x="64" y="659" width="1" height="1" fill="#1e90ff"/><rect x="87" y="659" width="2" height="1" fill="#1e90ff"/><rect x="104" y="659" width="4" height="1" fill="#1e90ff"/><rect x="111" y="659" width="1" height="1" fill="#1e90ff"/><rect x="1138" y="659" width="6" height="1" fill="#1e90ff"/><rect x="1168" y="659" width="1" height="1" fill="#1e90ff"/><rect x="1189" y="659" width="2" height="1" fill="#1e90ff"/><rect x="1308" y="659" width="1" height="1" fill="#1e90ff"/><rect x="190" y="703" width="9" height="1" fill="#1e90ff"/><rect x="209" y="703" width="1" height="1" fill="#1e90ff"/><rect x="291" y="703" width="1" height="1" fill="#1e90ff"/><rect x="464" y="703" width="1" height="1" fill="#1e90ff"/><rect x="599" y="703" width="2" height="1" fill="#1e90ff"/><rect x="727" y="703" width="1" height="1" fill="#1e90ff"/><rect x="165" y="689" width="1" height="1" fill="#1e90ff"/><rect x="466" y="689" width="1" height="1" fill="#1e90ff"/><rect x="532" y="689" width="1" height="1" fill="#1e90ff"/><rect x="760" y="689" width="1" height="1" fill="#1e90ff"/><rect x="902" y="689" width="2" height="1" fill="#1e90ff"/><rect x="919" y="689" width="1" height="1" fill="#1e90ff"/><rect x="943" y="689" width="1" height="1" fill="#1e90ff"/><rect x="163" y="686" width="1" height="1" fill="#1e90ff"/><rect x="467" y="686" width="1" height="1" fill="#1e90ff"/><rect x="506" y="686" width="2" height="1" fill="#1e90ff"/><rect x="516" y="686" width="4" height="1" fill="#1e90ff"/><rect x="529" y="686" width="1" height="1" fill="#1e90ff"/><rect x="762" y="686" width="1" height="1" fill="#1e90ff"/><rect x="780" y="686" width="1" height="1" fill="#1e90ff"/><rect x="788" y="686" width="3" height="1" fill="#1e90ff"/><rect x="901" y="686" width="1" height="1" fill="#1e90ff"/><rect x="909" y="686" width="3" height="1" fill="#1e90ff"/><rect x="946" y="686" width="2" height="1" fill="#1e90ff"/><rect x="1024" y="686" width="4" height="1" fill="#1e90ff"/><rect x="1039" y="686" width="1" height="1" fill="#1e90ff"/><rect x="678" y="725" width="1" height="1" fill="#1e90ff"/><rect x="688" y="725" width="1" height="1" fill="#1e90ff"/><rect x="677" y="724" width="1" height="1" fill="#1e90ff"/><rect x="689" y="724" width="1" height="1" fill="#1e90ff"/><rect x="67" y="656" width="1" height="1" fill="#1e90ff"/><rect x="77" y="656" width="3" height="1" fill="#1e90ff"/><rect x="1151" y="656" width="2" height="1" fill="#1e90ff"/><rect x="1165" y="656" width="2" height="1" fill="#1e90ff"/><rect x="1193" y="656" width="1" height="1" fill="#1e90ff"/><rect x="1206" y="656" width="1" height="1" fill="#1e90ff"/><rect x="1306" y="656" width="1" height="1" fill="#1e90ff"/><rect x="1227" y="647" width="2" height="1" fill="#1e90ff"/><rect x="1258" y="647" width="3" height="1" fill="#1e90ff"/><rect x="1233" y="644" width="2" height="1" fill="#1e90ff"/><rect x="1252" y="644" width="2" height="1" fill="#1e90ff"/><rect x="680" y="727" width="4" height="1" fill="#1e90ff"/><rect x="687" y="727" width="1" height="1" fill="#1e90ff"/><rect x="1240" y="641" width="4" height="1" fill="#1e90ff"/><rect x="1247" y="641" width="2" height="1" fill="#1e90ff"/><rect x="678" y="726" width="2" height="1" fill="#1e90ff"/><rect x="687" y="726" width="1" height="1" fill="#1e90ff"/><rect x="1197" y="652" width="1" height="1" fill="#1e90ff"/><rect x="1199" y="652" width="2" height="1" fill="#1e90ff"/><rect x="1211" y="652" width="1" height="1" fill="#1e90ff"/><rect x="1304" y="652" width="1" height="1" fill="#1e90ff"/><rect x="1235" y="643" width="2" height="1" fill="#1e90ff"/><rect x="1250" y="643" width="2" height="1" fill="#1e90ff"/><rect x="677" y="723" width="1" height="1" fill="#1e90ff"/><rect x="689" y="723" width="1" height="1" fill="#1e90ff"/><rect x="1244" y="640" width="3" height="1" fill="#1e90ff"/><rect x="676" y="722" width="1" height="1" fill="#1e90ff"/><rect x="690" y="722" width="1" height="1" fill="#1e90ff"/></g>
<text x="1589.4" y="49" font-size="9.8" fill="#000" textLength="33.4" lengthAdjust="spacingAndGlyphs">113.700</text>
<text x="1589.4" y="82" font-size="9.8" fill="#000" textLength="33.4" lengthAdjust="spacingAndGlyphs">113.100</text>
<text x="1589.4" y="115" font-size="9.8" fill="#000" textLength="33.4" lengthAdjust="spacingAndGlyphs">112.485</text>
<text x="1589.4" y="148" font-size="9.8" fill="#000" textLength="33.4" lengthAdjust="spacingAndGlyphs">111.870</text>
<text x="1589.4" y="181" font-size="9.8" fill="#000" textLength="33.4" lengthAdjust="spacingAndGlyphs">111.255</text>
<text x="1589.4" y="214" font-size="9.8" fill="#000" textLength="33.4" lengthAdjust="spacingAndGlyphs">110.640</text>
<text x="1589.4" y="247" font-size="9.8" fill="#000" textLength="33.4" lengthAdjust="spacingAndGlyphs">110.040</text>
<text x="1589.4" y="346" font-size="9.8" fill="#000" textLength="33.4" lengthAdjust="spacingAndGlyphs">108.195</text>
<text x="1589.4" y="379" font-size="9.8" fill="#000" textLength="33.4" lengthAdjust="spacingAndGlyphs">107.595</text>
<text x="1589.4" y="412" font-size="9.8" fill="#000" textLength="33.4" lengthAdjust="spacingAndGlyphs">106.980</text>
<text x="1589.4" y="445" font-size="9.8" fill="#000" textLength="33.4" lengthAdjust="spacingAndGlyphs">106.365</text>
<text x="1588" y="457" font-size="9.8" fill="#000" textLength="27.5" lengthAdjust="spacingAndGlyphs">0.3587</text>
<text x="1588" y="495" font-size="9.8" fill="#000" textLength="17.5" lengthAdjust="spacingAndGlyphs">0.00</text>
<text x="1588" y="594" font-size="9.8" fill="#000" textLength="30.5" lengthAdjust="spacingAndGlyphs">-0.8811</text>
<text x="1588" y="610" font-size="9.8" fill="#000" textLength="14.5" lengthAdjust="spacingAndGlyphs">100</text>
<text x="1588" y="634" font-size="9.8" fill="#000" textLength="9.2" lengthAdjust="spacingAndGlyphs">80</text>
<text x="1588" y="678" font-size="9.8" fill="#000" textLength="9.2" lengthAdjust="spacingAndGlyphs">50</text>
<text x="1588" y="730" font-size="9.8" fill="#000" textLength="9.2" lengthAdjust="spacingAndGlyphs">15</text>
<text x="1588" y="746" font-size="9.8" fill="#000" textLength="4.7" lengthAdjust="spacingAndGlyphs">0</text>
<g shape-rendering="crispEdges">
<rect x="1586" y="254" width="39" height="19" fill="#ff4500" />
<rect x="1586" y="273" width="39" height="6" fill="#32cd32" />
<rect x="1586" y="279" width="39" height="11" fill="#000" />
<rect x="1586" y="295" width="39" height="21" fill="#0000ff" />
</g>
<clipPath id="c1"><rect x="1586" y="254" width="39" height="8"/></clipPath>
<clipPath id="c2"><rect x="1586" y="273" width="39" height="6"/></clipPath>
<text x="1591" y="262.5" font-size="9.8" fill="#fff" textLength="31.5" lengthAdjust="spacingAndGlyphs" clip-path="url(#c1)">109.723</text>
<text x="1591" y="271" font-size="9.8" fill="#fff" textLength="31.5" lengthAdjust="spacingAndGlyphs">109.575</text>
<text x="1591" y="277" font-size="9.8" fill="#fff" textLength="31.5" lengthAdjust="spacingAndGlyphs" clip-path="url(#c2)">109.464</text>
<text x="1591" y="288" font-size="9.8" fill="#fff" textLength="31.5" lengthAdjust="spacingAndGlyphs">109.275</text>
<text x="1591" y="304" font-size="9.8" fill="#fff" textLength="31.5" lengthAdjust="spacingAndGlyphs">108.965</text>
<text x="1591" y="313.5" font-size="9.8" fill="#fff" textLength="31.5" lengthAdjust="spacingAndGlyphs">108.780</text>
<text transform="translate(-2.6,761.5) scale(0.94,1)" font-size="9.9" fill="#000">12 Dec 2018</text>
<text transform="translate(61.4,761.5) scale(0.94,1)" font-size="9.9" fill="#000">13 Dec 08:00</text>
<text transform="translate(125.4,761.5) scale(0.94,1)" font-size="9.9" fill="#000">14 Dec 16:00</text>
<text transform="translate(189.4,761.5) scale(0.94,1)" font-size="9.9" fill="#000">18 Dec 00:00</text>
<text transform="translate(253.4,761.5) scale(0.94,1)" font-size="9.9" fill="#000">19 Dec 08:00</text>
<text transform="translate(317.4,761.5) scale(0.94,1)" font-size="9.9" fill="#000">20 Dec 16:00</text>
<text transform="translate(381.4,761.5) scale(0.94,1)" font-size="9.9" fill="#000">24 Dec 00:00</text>
<text transform="translate(445.4,761.5) scale(0.94,1)" font-size="9.9" fill="#000">26 Dec 04:00</text>
<text transform="translate(509.4,761.5) scale(0.94,1)" font-size="9.9" fill="#000">27 Dec 12:00</text>
<text transform="translate(573.4,761.5) scale(0.94,1)" font-size="9.9" fill="#000">30 Dec 23:00</text>
<text transform="translate(637.4,761.5) scale(0.94,1)" font-size="9.9" fill="#000">2 Jan 00:00</text>
<text transform="translate(701.4,761.5) scale(0.94,1)" font-size="9.9" fill="#000">3 Jan 08:00</text>
<text transform="translate(765.4,761.5) scale(0.94,1)" font-size="9.9" fill="#000">4 Jan 16:00</text>
<text transform="translate(829.4,761.5) scale(0.94,1)" font-size="9.9" fill="#000">8 Jan 00:00</text>
<text transform="translate(893.4,761.5) scale(0.94,1)" font-size="9.9" fill="#000">9 Jan 08:00</text>
<text transform="translate(957.4,761.5) scale(0.94,1)" font-size="9.9" fill="#000">10 Jan 16:00</text>
<text transform="translate(1021.4,761.5) scale(0.94,1)" font-size="9.9" fill="#000">14 Jan 00:00</text>
<text transform="translate(1085.4,761.5) scale(0.94,1)" font-size="9.9" fill="#000">15 Jan 08:00</text>
<text transform="translate(1149.4,761.5) scale(0.94,1)" font-size="9.9" fill="#000">16 Jan 16:00</text>
<text transform="translate(1213.4,761.5) scale(0.94,1)" font-size="9.9" fill="#000">18 Jan 00:00</text>
<text transform="translate(1277.4,761.5) scale(0.94,1)" font-size="9.9" fill="#000">21 Jan 08:00</text>
<text transform="translate(1341.4,761.5) scale(0.94,1)" font-size="9.9" fill="#000">22 Jan 16:00</text>
<polygon points="0.8,35.2 4.8,30.8 8.8,35.2" fill="#000"/>
<text x="13.5" y="35.8" font-size="9.3" fill="#000" textLength="53" lengthAdjust="spacingAndGlyphs">USDJPY-,H4</text>
<text x="73" y="35.8" font-size="9.3" fill="#000" textLength="140.6" lengthAdjust="spacingAndGlyphs">109.287 109.318 109.239 109.275</text>
<text x="2.5" y="458.8" font-size="9.6" fill="#000" textLength="127" lengthAdjust="spacingAndGlyphs">MACD(12,26,9) 0.1223 0.2125</text>
<text x="2.5" y="612.4" font-size="9.6" fill="#000" textLength="67" lengthAdjust="spacingAndGlyphs">RSI(14) 49.4474</text>
<defs><linearGradient id="tabg" x1="0" y1="0" x2="0" y2="1"><stop offset="0" stop-color="#fb5656"/><stop offset="1" stop-color="#e53a3a"/></linearGradient><linearGradient id="bodyg" x1="0" y1="0" x2="0" y2="1"><stop offset="0" stop-color="#e03434"/><stop offset="1" stop-color="#b00202"/></linearGradient><linearGradient id="btng" x1="0" y1="0" x2="0" y2="1"><stop offset="0" stop-color="#f0f0f0"/><stop offset="1" stop-color="#e2e2e2"/></linearGradient></defs>
<g shape-rendering="crispEdges">
<rect x="0" y="42" width="222" height="68" fill="#fff" />
<rect x="1" y="44" width="52" height="24" fill="#b00000" />
<rect x="2" y="45" width="50" height="23" fill="url(#tabg)" />
<rect x="1" y="68" width="109" height="40" fill="#b00000" />
<rect x="2" y="69" width="107" height="38" fill="url(#bodyg)" />
<rect x="2" y="68" width="50" height="1" fill="url(#tabg)" />
<rect x="5" y="67" width="45" height="1" fill="#8c0000" />
<rect x="5" y="68" width="45" height="1" fill="#ff6a6a" />
<rect x="168" y="44" width="52" height="24" fill="#b00000" />
<rect x="169" y="45" width="50" height="23" fill="url(#tabg)" />
<rect x="112" y="68" width="108" height="40" fill="#b00000" />
<rect x="113" y="69" width="106" height="38" fill="url(#bodyg)" />
<rect x="169" y="68" width="50" height="1" fill="url(#tabg)" />
<rect x="172" y="67" width="45" height="1" fill="#8c0000" />
<rect x="172" y="68" width="45" height="1" fill="#ff6a6a" />
<rect x="55" y="44" width="111" height="22" fill="#adb2b9" />
<rect x="56" y="45" width="109" height="20" fill="#fff" />
<rect x="56" y="45" width="20" height="20" fill="url(#btng)" />
<rect x="76" y="45" width="1" height="20" fill="#adb2b9" />
<rect x="145" y="45" width="20" height="20" fill="url(#btng)" />
<rect x="144" y="45" width="1" height="20" fill="#adb2b9" />
</g>
<path d="M63 53 h7 l-3.5 4 z" fill="#000"/>
<path d="M151.5 57 h7 l-3.5 -4 z" fill="#000"/>
<text x="116.8" y="59.2" font-size="12.6" fill="#000" textLength="24.4" lengthAdjust="spacingAndGlyphs">0.10</text>
<text x="13.6" y="59.9" font-size="11.8" fill="#fff" textLength="25.6" lengthAdjust="spacingAndGlyphs">SELL</text>
<text x="181" y="59.9" font-size="11.8" fill="#fff" textLength="24.2" lengthAdjust="spacingAndGlyphs">BUY</text>
<text x="23.6" y="98.9" font-size="12.2" fill="#fff" textLength="21.6" lengthAdjust="spacingAndGlyphs" font-weight="bold">109</text>
<text x="48" y="99.1" font-size="33" fill="#fff" textLength="36" lengthAdjust="spacingAndGlyphs">27</text>
<text x="87.3" y="83" font-size="12" fill="#fff" textLength="7.6" lengthAdjust="spacingAndGlyphs" font-weight="bold">5</text>
<text x="134.6" y="98.9" font-size="12.2" fill="#fff" textLength="21.6" lengthAdjust="spacingAndGlyphs" font-weight="bold">109</text>
<text x="159" y="99.1" font-size="33" fill="#fff" textLength="36" lengthAdjust="spacingAndGlyphs">29</text>
<text x="198.3" y="83" font-size="12" fill="#fff" textLength="7.6" lengthAdjust="spacingAndGlyphs" font-weight="bold">4</text>
</svg>
</body></html>
